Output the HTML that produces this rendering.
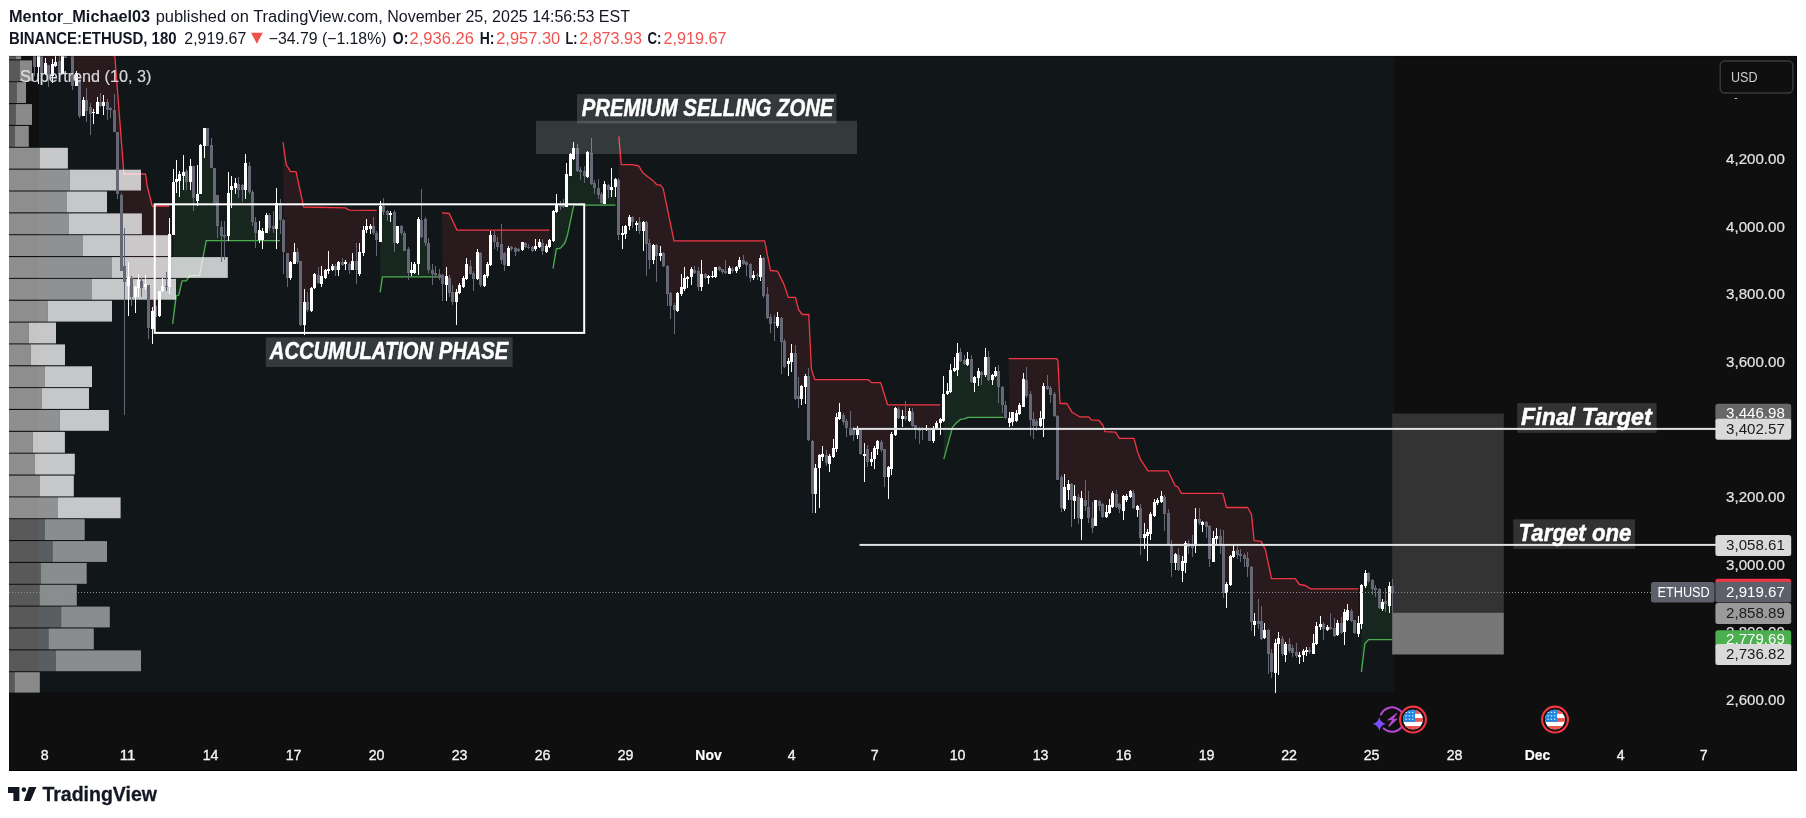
<!DOCTYPE html>
<html><head><meta charset="utf-8"><title>ETHUSD chart</title>
<style>
html,body{margin:0;padding:0;background:#ffffff;}
body{width:1806px;height:818px;position:relative;overflow:hidden;font-family:"Liberation Sans", sans-serif;}
</style></head><body>
<svg width="1806" height="818" viewBox="0 0 1806 818" style="position:absolute;left:0;top:0;will-change:transform;font-family:&quot;Liberation Sans&quot;,sans-serif">
<defs><clipPath id="cc"><rect x="9" y="56" width="1788" height="715"/></clipPath></defs>
<rect x="9" y="56" width="1788" height="715" fill="#0f0f0f"/>
<g clip-path="url(#cc)">
<rect x="38.5" y="56" width="1355.5" height="636.6" fill="#111719"/>
<polygon points="34.3,40.0 114.8,56.0 123.9,174.0 145.5,174.0 147.2,186.0 152.2,206.0 169.4,206.0 169.5,260.7 166.5,286.5 162.5,288.3 159.5,303.2 155.5,311.3 152.5,319.9 148.5,306.5 145.5,285.7 141.5,284.6 138.5,284.1 135.5,291.6 131.5,287.3 128.5,281.5 124.5,274.0 121.5,233.0 117.5,163.0 114.5,120.8 110.5,109.3 107.5,106.2 103.5,104.0 100.5,104.0 97.5,108.0 93.5,112.4 90.5,110.2 86.5,105.5 83.5,108.0 79.5,98.0 76.5,79.2 72.5,71.2 69.5,56.8 65.5,56.8 62.5,65.0 59.5,67.3 55.5,64.2 52.5,70.0 48.5,70.3 45.5,68.7 41.5,65.0 38.5,61.4 34.5,61.4" fill="rgba(242,54,69,0.10)"/>
<polygon points="172.6,323.8 176.3,295.8 178.8,295.0 182.1,280.8 186.3,280.8 189.6,275.8 199.6,275.3 206.2,240.7 280.0,240.7 280.5,211.5 276.5,216.0 273.5,227.6 269.5,221.2 266.5,223.7 262.5,235.9 259.5,235.3 255.5,227.6 252.5,207.0 249.5,178.8 245.5,176.9 242.5,187.8 238.5,187.0 235.5,185.5 231.5,188.0 228.5,214.3 224.5,235.8 221.5,231.3 217.5,210.5 214.5,185.3 211.5,156.4 207.5,136.8 204.5,137.2 200.5,169.2 197.5,197.2 193.5,182.2 190.5,174.3 186.5,176.4 183.5,173.9 179.5,177.7 176.5,180.5 173.5,208.5" fill="rgba(76,175,80,0.10)"/>
<polygon points="283.0,142.1 286.2,164.7 290.6,171.6 296.0,171.6 303.7,207.0 345.3,207.8 349.1,210.1 376.7,210.4 376.5,236.6 373.5,229.5 370.5,227.3 366.5,228.2 363.5,241.7 359.5,262.9 356.5,265.5 352.5,265.5 349.5,266.7 345.5,263.2 342.5,263.5 338.5,266.1 335.5,268.0 332.5,268.0 328.5,270.0 325.5,273.8 321.5,280.2 318.5,278.9 314.5,280.9 311.5,299.5 307.5,305.9 304.5,313.6 300.5,293.1 297.5,257.1 294.5,257.8 290.5,270.0 287.5,265.5 283.5,235.9" fill="rgba(242,54,69,0.10)"/>
<polygon points="380.1,292.3 382.5,276.9 439.0,276.9 439.5,275.7 435.5,273.8 432.5,271.9 428.5,256.5 425.5,230.8 421.5,228.2 418.5,241.1 414.5,268.0 411.5,271.6 408.5,261.0 404.5,241.7 401.5,229.5 397.5,234.6 394.5,227.6 390.5,213.7 387.5,212.8 383.5,209.0 380.5,224.0" fill="rgba(76,175,80,0.10)"/>
<polygon points="442.0,212.9 449.3,213.5 457.0,230.2 549.3,230.2 549.5,243.4 546.5,248.8 542.5,246.8 539.5,244.5 535.5,247.5 532.5,248.8 528.5,247.5 525.5,244.9 522.5,246.2 518.5,250.1 515.5,250.1 511.5,248.1 508.5,257.1 504.5,259.0 501.5,252.0 497.5,244.3 494.5,238.5 490.5,250.1 487.5,270.0 484.5,280.5 480.5,269.3 477.5,265.5 473.5,275.7 470.5,270.0 466.5,271.2 463.5,282.2 459.5,289.2 456.5,296.9 452.5,296.9 449.5,285.4 446.5,280.9 442.5,279.6" fill="rgba(242,54,69,0.10)"/>
<polygon points="553.0,268.7 556.4,248.9 560.5,248.1 564.9,243.0 567.4,235.3 573.8,205.2 615.5,205.2 615.5,183.2 611.5,188.3 608.5,187.8 604.5,194.2 601.5,198.7 598.5,191.6 594.5,185.2 591.5,168.5 587.5,164.3 584.5,173.7 580.5,171.1 577.5,159.5 573.5,153.4 570.5,165.3 566.5,190.3 563.5,205.8 560.5,205.8 556.5,208.3 553.5,225.9" fill="rgba(76,175,80,0.10)"/>
<polygon points="618.8,136.4 621.3,164.7 632.4,164.7 638.8,166.0 642.6,172.4 647.8,176.7 652.9,180.6 656.8,184.7 660.6,185.2 663.2,188.6 674.0,240.9 764.6,240.9 770.5,270.5 777.5,271.2 783.9,284.1 788.3,297.4 795.4,297.4 798.5,309.5 802.2,314.5 808.8,314.5 811.4,369.3 814.7,379.6 867.9,379.6 871.7,382.7 880.7,382.7 887.6,404.8 940.4,404.8 940.5,421.0 936.5,425.6 933.5,434.2 929.5,435.0 926.5,429.0 922.5,429.7 919.5,429.7 915.5,427.4 912.5,418.8 909.5,415.8 905.5,417.7 902.5,417.1 898.5,413.6 895.5,421.6 891.5,451.8 888.5,472.1 884.5,463.3 881.5,446.0 877.5,445.1 874.5,453.4 871.5,460.8 867.5,455.4 864.5,454.9 860.5,441.9 857.5,432.0 853.5,432.3 850.5,431.2 846.5,424.6 843.5,418.4 839.5,415.4 836.5,433.2 833.5,452.4 829.5,460.1 826.5,459.2 822.5,455.4 819.5,461.8 815.5,481.0 812.5,467.3 808.5,407.9 805.5,381.8 801.5,392.4 798.5,397.6 795.5,375.8 791.5,357.1 788.5,362.5 784.5,353.9 781.5,330.2 777.5,321.2 774.5,322.5 770.5,320.5 767.5,306.0 763.5,277.0 760.5,267.4 757.5,275.5 753.5,276.8 750.5,270.9 746.5,263.5 743.5,262.0 739.5,263.5 736.5,268.8 732.5,269.7 729.5,270.9 725.5,271.8 722.5,270.7 719.5,268.7 715.5,272.1 712.5,276.4 708.5,277.4 705.5,275.7 701.5,280.2 698.5,278.9 694.5,271.2 691.5,272.8 687.5,277.9 684.5,283.4 681.5,290.5 677.5,302.1 674.5,307.2 670.5,299.5 667.5,280.2 663.5,259.4 660.5,254.6 656.5,250.3 653.5,252.2 649.5,251.3 646.5,233.4 643.5,226.3 639.5,226.7 636.5,223.7 632.5,219.9 629.5,221.6 625.5,229.8 622.5,234.0 618.5,207.7" fill="rgba(242,54,69,0.10)"/>
<polygon points="943.8,459.2 952.6,427.1 956.5,422.8 960.3,419.4 964.2,418.9 968.0,417.4 1003.5,417.4 1002.5,396.0 998.5,379.0 995.5,373.4 992.5,377.3 988.5,368.3 985.5,366.3 981.5,373.6 978.5,374.5 974.5,379.7 971.5,370.4 967.5,361.9 964.5,362.3 960.5,356.5 957.5,361.2 954.5,369.3 950.5,381.2 947.5,392.7 943.5,407.5" fill="rgba(76,175,80,0.10)"/>
<polygon points="1008.6,358.6 1056.6,358.6 1057.9,360.3 1060.0,403.5 1066.9,403.5 1072.0,412.2 1079.7,416.8 1088.7,416.8 1091.3,419.9 1099.0,420.3 1103.0,425.5 1105.0,431.6 1115.5,432.2 1119.5,438.4 1134.0,438.4 1137.5,451.7 1140.9,460.2 1148.0,470.8 1168.0,470.8 1175.2,485.9 1177.7,486.7 1181.5,493.4 1222.9,493.4 1226.4,507.5 1247.7,507.5 1251.5,514.4 1254.1,540.6 1261.3,541.4 1265.6,550.3 1271.5,578.6 1295.2,578.6 1299.5,584.5 1305.4,585.5 1310.6,588.9 1358.5,588.9 1358.5,628.3 1354.5,626.5 1351.5,615.8 1347.5,614.8 1344.5,621.9 1341.5,628.2 1337.5,628.9 1334.5,632.3 1330.5,628.0 1327.5,628.7 1323.5,626.4 1320.5,625.7 1316.5,635.1 1313.5,648.4 1309.5,651.0 1306.5,650.8 1303.5,653.1 1299.5,656.0 1296.5,653.7 1292.5,650.5 1289.5,647.3 1285.5,649.2 1282.5,646.7 1278.5,641.3 1275.5,658.1 1271.5,662.7 1268.5,642.2 1264.5,634.2 1261.5,630.2 1258.5,622.3 1254.5,622.9 1251.5,594.4 1247.5,562.3 1244.5,556.8 1240.5,555.0 1237.5,552.9 1233.5,554.1 1230.5,570.4 1226.5,588.2 1223.5,568.6 1220.5,540.7 1216.5,537.5 1213.5,549.7 1209.5,542.9 1206.5,524.7 1202.5,523.1 1199.5,521.1 1195.5,532.6 1192.5,546.5 1188.5,545.2 1185.5,553.3 1182.5,565.8 1178.5,562.8 1175.5,558.7 1171.5,554.2 1168.5,529.2 1164.5,505.8 1161.5,498.6 1157.5,501.6 1154.5,508.6 1150.5,524.0 1147.5,534.0 1144.5,535.6 1140.5,522.7 1137.5,508.0 1133.5,500.3 1130.5,494.2 1126.5,498.0 1123.5,503.5 1119.5,506.7 1116.5,500.3 1112.5,499.6 1109.5,509.3 1106.5,514.4 1102.5,510.5 1099.5,503.4 1095.5,512.9 1092.5,523.1 1088.5,512.8 1085.5,503.0 1081.5,508.4 1078.5,507.7 1074.5,498.4 1071.5,492.3 1068.5,487.2 1064.5,497.8 1061.5,492.7 1057.5,447.7 1054.5,404.9 1050.5,391.4 1047.5,387.3 1043.5,402.3 1040.5,422.0 1036.5,423.3 1033.5,422.6 1030.5,406.8 1026.5,388.0 1023.5,392.7 1019.5,409.8 1016.5,417.2 1012.5,417.1 1009.5,420.4" fill="rgba(242,54,69,0.10)"/>
<polygon points="1361.4,672.2 1364.8,643.8 1368.5,639.6 1393.0,639.6 1392.5,589.5 1389.5,595.9 1385.5,602.6 1382.5,605.6 1379.5,598.8 1375.5,588.9 1372.5,584.6 1368.5,577.3 1365.5,579.5 1361.5,604.3" fill="rgba(76,175,80,0.10)"/>
<polyline points="34.3,40.0 114.8,56.0 123.9,174.0 145.5,174.0 147.2,186.0 152.2,206.0 169.4,206.0" fill="none" stroke="#f23645" stroke-width="1.3" stroke-linejoin="round"/>
<polyline points="172.6,323.8 176.3,295.8 178.8,295.0 182.1,280.8 186.3,280.8 189.6,275.8 199.6,275.3 206.2,240.7 280.0,240.7" fill="none" stroke="#4caf50" stroke-width="1.3" stroke-linejoin="round"/>
<polyline points="283.0,142.1 286.2,164.7 290.6,171.6 296.0,171.6 303.7,207.0 345.3,207.8 349.1,210.1 376.7,210.4" fill="none" stroke="#f23645" stroke-width="1.3" stroke-linejoin="round"/>
<polyline points="380.1,292.3 382.5,276.9 439.0,276.9" fill="none" stroke="#4caf50" stroke-width="1.3" stroke-linejoin="round"/>
<polyline points="442.0,212.9 449.3,213.5 457.0,230.2 549.3,230.2" fill="none" stroke="#f23645" stroke-width="1.3" stroke-linejoin="round"/>
<polyline points="553.0,268.7 556.4,248.9 560.5,248.1 564.9,243.0 567.4,235.3 573.8,205.2 615.5,205.2" fill="none" stroke="#4caf50" stroke-width="1.3" stroke-linejoin="round"/>
<polyline points="618.8,136.4 621.3,164.7 632.4,164.7 638.8,166.0 642.6,172.4 647.8,176.7 652.9,180.6 656.8,184.7 660.6,185.2 663.2,188.6 674.0,240.9 764.6,240.9 770.5,270.5 777.5,271.2 783.9,284.1 788.3,297.4 795.4,297.4 798.5,309.5 802.2,314.5 808.8,314.5 811.4,369.3 814.7,379.6 867.9,379.6 871.7,382.7 880.7,382.7 887.6,404.8 940.4,404.8" fill="none" stroke="#f23645" stroke-width="1.3" stroke-linejoin="round"/>
<polyline points="943.8,459.2 952.6,427.1 956.5,422.8 960.3,419.4 964.2,418.9 968.0,417.4 1003.5,417.4" fill="none" stroke="#4caf50" stroke-width="1.3" stroke-linejoin="round"/>
<polyline points="1008.6,358.6 1056.6,358.6 1057.9,360.3 1060.0,403.5 1066.9,403.5 1072.0,412.2 1079.7,416.8 1088.7,416.8 1091.3,419.9 1099.0,420.3 1103.0,425.5 1105.0,431.6 1115.5,432.2 1119.5,438.4 1134.0,438.4 1137.5,451.7 1140.9,460.2 1148.0,470.8 1168.0,470.8 1175.2,485.9 1177.7,486.7 1181.5,493.4 1222.9,493.4 1226.4,507.5 1247.7,507.5 1251.5,514.4 1254.1,540.6 1261.3,541.4 1265.6,550.3 1271.5,578.6 1295.2,578.6 1299.5,584.5 1305.4,585.5 1310.6,588.9 1358.5,588.9" fill="none" stroke="#f23645" stroke-width="1.3" stroke-linejoin="round"/>
<polyline points="1361.4,672.2 1364.8,643.8 1368.5,639.6 1393.0,639.6" fill="none" stroke="#4caf50" stroke-width="1.3" stroke-linejoin="round"/>
<g>
<rect x="9" y="56.0" width="6.9" height="3.3" fill="#ffffff" fill-opacity="0.31"/>
<rect x="15.9" y="56.0" width="5.2" height="3.3" fill="#ffffff" fill-opacity="0.51"/>
<rect x="9" y="60.4" width="10.8" height="20.8" fill="#ffffff" fill-opacity="0.31"/>
<rect x="19.8" y="60.4" width="12.2" height="20.8" fill="#ffffff" fill-opacity="0.51"/>
<rect x="9" y="82.2" width="7.8" height="20.8" fill="#ffffff" fill-opacity="0.31"/>
<rect x="16.8" y="82.2" width="9.2" height="20.8" fill="#ffffff" fill-opacity="0.51"/>
<rect x="9" y="104.1" width="6.8" height="20.8" fill="#ffffff" fill-opacity="0.31"/>
<rect x="15.8" y="104.1" width="16.2" height="20.8" fill="#ffffff" fill-opacity="0.51"/>
<rect x="9" y="126.0" width="6.0" height="20.8" fill="#ffffff" fill-opacity="0.31"/>
<rect x="15.0" y="126.0" width="13.8" height="20.8" fill="#ffffff" fill-opacity="0.51"/>
<rect x="9" y="147.8" width="31.0" height="20.8" fill="#ffffff" fill-opacity="0.53"/>
<rect x="40.0" y="147.8" width="27.9" height="20.8" fill="#ffffff" fill-opacity="0.76"/>
<rect x="9" y="169.7" width="60.8" height="20.8" fill="#ffffff" fill-opacity="0.53"/>
<rect x="69.8" y="169.7" width="71.2" height="20.8" fill="#ffffff" fill-opacity="0.76"/>
<rect x="9" y="191.5" width="58.0" height="20.8" fill="#ffffff" fill-opacity="0.53"/>
<rect x="67.0" y="191.5" width="40.0" height="20.8" fill="#ffffff" fill-opacity="0.76"/>
<rect x="9" y="213.4" width="59.7" height="20.8" fill="#ffffff" fill-opacity="0.53"/>
<rect x="68.7" y="213.4" width="73.2" height="20.8" fill="#ffffff" fill-opacity="0.76"/>
<rect x="9" y="235.2" width="73.7" height="20.8" fill="#ffffff" fill-opacity="0.53"/>
<rect x="82.7" y="235.2" width="88.6" height="20.8" fill="#ffffff" fill-opacity="0.76"/>
<rect x="9" y="257.1" width="103.0" height="20.8" fill="#ffffff" fill-opacity="0.53"/>
<rect x="112.0" y="257.1" width="115.8" height="20.8" fill="#ffffff" fill-opacity="0.76"/>
<rect x="9" y="278.9" width="82.6" height="20.8" fill="#ffffff" fill-opacity="0.53"/>
<rect x="91.6" y="278.9" width="84.4" height="20.8" fill="#ffffff" fill-opacity="0.76"/>
<rect x="9" y="300.8" width="38.9" height="20.8" fill="#ffffff" fill-opacity="0.53"/>
<rect x="47.9" y="300.8" width="64.1" height="20.8" fill="#ffffff" fill-opacity="0.76"/>
<rect x="9" y="322.6" width="19.8" height="20.8" fill="#ffffff" fill-opacity="0.53"/>
<rect x="28.8" y="322.6" width="27.2" height="20.8" fill="#ffffff" fill-opacity="0.76"/>
<rect x="9" y="344.4" width="21.8" height="20.8" fill="#ffffff" fill-opacity="0.53"/>
<rect x="30.8" y="344.4" width="34.2" height="20.8" fill="#ffffff" fill-opacity="0.76"/>
<rect x="9" y="366.3" width="35.6" height="20.8" fill="#ffffff" fill-opacity="0.53"/>
<rect x="44.6" y="366.3" width="47.4" height="20.8" fill="#ffffff" fill-opacity="0.76"/>
<rect x="9" y="388.1" width="32.9" height="20.8" fill="#ffffff" fill-opacity="0.53"/>
<rect x="41.9" y="388.1" width="47.1" height="20.8" fill="#ffffff" fill-opacity="0.76"/>
<rect x="9" y="410.0" width="50.9" height="20.8" fill="#ffffff" fill-opacity="0.53"/>
<rect x="59.9" y="410.0" width="49.0" height="20.8" fill="#ffffff" fill-opacity="0.76"/>
<rect x="9" y="431.9" width="23.7" height="20.8" fill="#ffffff" fill-opacity="0.53"/>
<rect x="32.7" y="431.9" width="32.2" height="20.8" fill="#ffffff" fill-opacity="0.76"/>
<rect x="9" y="453.7" width="25.9" height="20.8" fill="#ffffff" fill-opacity="0.53"/>
<rect x="34.9" y="453.7" width="39.9" height="20.8" fill="#ffffff" fill-opacity="0.76"/>
<rect x="9" y="475.6" width="30.9" height="20.8" fill="#ffffff" fill-opacity="0.53"/>
<rect x="39.9" y="475.6" width="33.9" height="20.8" fill="#ffffff" fill-opacity="0.76"/>
<rect x="9" y="497.4" width="48.5" height="20.8" fill="#ffffff" fill-opacity="0.53"/>
<rect x="57.5" y="497.4" width="63.1" height="20.8" fill="#ffffff" fill-opacity="0.76"/>
<rect x="9" y="519.2" width="35.9" height="20.8" fill="#ffffff" fill-opacity="0.31"/>
<rect x="44.9" y="519.2" width="39.8" height="20.8" fill="#ffffff" fill-opacity="0.51"/>
<rect x="9" y="541.1" width="43.7" height="20.8" fill="#ffffff" fill-opacity="0.31"/>
<rect x="52.7" y="541.1" width="54.3" height="20.8" fill="#ffffff" fill-opacity="0.51"/>
<rect x="9" y="563.0" width="31.8" height="20.8" fill="#ffffff" fill-opacity="0.31"/>
<rect x="40.8" y="563.0" width="45.9" height="20.8" fill="#ffffff" fill-opacity="0.51"/>
<rect x="9" y="584.8" width="30.8" height="20.8" fill="#ffffff" fill-opacity="0.31"/>
<rect x="39.8" y="584.8" width="37.0" height="20.8" fill="#ffffff" fill-opacity="0.51"/>
<rect x="9" y="606.6" width="52.2" height="20.8" fill="#ffffff" fill-opacity="0.31"/>
<rect x="61.2" y="606.6" width="48.6" height="20.8" fill="#ffffff" fill-opacity="0.51"/>
<rect x="9" y="628.5" width="39.6" height="20.8" fill="#ffffff" fill-opacity="0.31"/>
<rect x="48.6" y="628.5" width="45.2" height="20.8" fill="#ffffff" fill-opacity="0.51"/>
<rect x="9" y="650.4" width="47.0" height="20.8" fill="#ffffff" fill-opacity="0.31"/>
<rect x="56.0" y="650.4" width="85.0" height="20.8" fill="#ffffff" fill-opacity="0.51"/>
<rect x="9" y="672.2" width="5.6" height="20.4" fill="#ffffff" fill-opacity="0.31"/>
<rect x="14.6" y="672.2" width="25.2" height="20.4" fill="#ffffff" fill-opacity="0.51"/>
</g>
<rect x="1392.2" y="413.6" width="111.6" height="199.1" fill="#333333"/>
<rect x="1392.2" y="612.7" width="111.6" height="41.8" fill="#777777"/>
<rect x="34" y="56" width="1" height="20" fill="#666975"/>
<rect x="33" y="56" width="3" height="11" fill="#666975"/>
<rect x="38" y="56" width="1" height="28" fill="#ffffff"/>
<rect x="37" y="56" width="3" height="11" fill="#ffffff"/>
<rect x="41" y="56" width="1" height="18" fill="#666975"/>
<rect x="40" y="56" width="3" height="18" fill="#666975"/>
<rect x="45" y="58" width="1" height="17" fill="#ffffff"/>
<rect x="44" y="63" width="3" height="11" fill="#ffffff"/>
<rect x="48" y="65" width="1" height="22" fill="#666975"/>
<rect x="47" y="65" width="3" height="11" fill="#666975"/>
<rect x="52" y="59" width="1" height="24" fill="#ffffff"/>
<rect x="51" y="64" width="3" height="12" fill="#ffffff"/>
<rect x="55" y="56" width="1" height="11" fill="#ffffff"/>
<rect x="54" y="62" width="3" height="4" fill="#ffffff"/>
<rect x="59" y="56" width="1" height="19" fill="#666975"/>
<rect x="58" y="61" width="3" height="13" fill="#666975"/>
<rect x="62" y="56" width="1" height="18" fill="#ffffff"/>
<rect x="61" y="56" width="3" height="18" fill="#ffffff"/>
<rect x="65" y="56" width="1" height="2" fill="#666975"/>
<rect x="64" y="56" width="3" height="2" fill="#666975"/>
<rect x="72" y="56" width="1" height="34" fill="#666975"/>
<rect x="71" y="56" width="3" height="30" fill="#666975"/>
<rect x="76" y="71" width="1" height="15" fill="#ffffff"/>
<rect x="75" y="73" width="3" height="13" fill="#ffffff"/>
<rect x="79" y="80" width="1" height="38" fill="#666975"/>
<rect x="78" y="80" width="3" height="36" fill="#666975"/>
<rect x="83" y="97" width="1" height="19" fill="#ffffff"/>
<rect x="82" y="100" width="3" height="16" fill="#ffffff"/>
<rect x="86" y="88" width="1" height="34" fill="#666975"/>
<rect x="85" y="100" width="3" height="11" fill="#666975"/>
<rect x="90" y="103" width="1" height="32" fill="#666975"/>
<rect x="89" y="107" width="3" height="7" fill="#666975"/>
<rect x="93" y="109" width="1" height="15" fill="#ffffff"/>
<rect x="92" y="112" width="3" height="1" fill="#ffffff"/>
<rect x="97" y="97" width="1" height="17" fill="#ffffff"/>
<rect x="96" y="102" width="3" height="12" fill="#ffffff"/>
<rect x="100" y="93" width="1" height="14" fill="#666975"/>
<rect x="99" y="102" width="3" height="4" fill="#666975"/>
<rect x="103" y="95" width="1" height="20" fill="#ffffff"/>
<rect x="102" y="102" width="3" height="4" fill="#ffffff"/>
<rect x="107" y="99" width="1" height="21" fill="#666975"/>
<rect x="106" y="102" width="3" height="8" fill="#666975"/>
<rect x="110" y="107" width="1" height="11" fill="#666975"/>
<rect x="109" y="108" width="3" height="2" fill="#666975"/>
<rect x="114" y="94" width="1" height="38" fill="#666975"/>
<rect x="113" y="110" width="3" height="22" fill="#666975"/>
<rect x="117" y="132" width="1" height="67" fill="#666975"/>
<rect x="116" y="132" width="3" height="62" fill="#666975"/>
<rect x="121" y="193" width="1" height="78" fill="#666975"/>
<rect x="120" y="195" width="3" height="76" fill="#666975"/>
<rect x="124" y="228" width="1" height="187" fill="#666975"/>
<rect x="123" y="266" width="3" height="16" fill="#666975"/>
<rect x="128" y="262" width="1" height="54" fill="#ffffff"/>
<rect x="127" y="277" width="3" height="9" fill="#ffffff"/>
<rect x="131" y="276" width="1" height="30" fill="#666975"/>
<rect x="130" y="278" width="3" height="19" fill="#666975"/>
<rect x="135" y="286" width="1" height="27" fill="#ffffff"/>
<rect x="134" y="287" width="3" height="10" fill="#ffffff"/>
<rect x="138" y="274" width="1" height="23" fill="#ffffff"/>
<rect x="137" y="280" width="3" height="8" fill="#ffffff"/>
<rect x="141" y="278" width="1" height="19" fill="#666975"/>
<rect x="140" y="281" width="3" height="7" fill="#666975"/>
<rect x="145" y="275" width="1" height="15" fill="#ffffff"/>
<rect x="144" y="284" width="3" height="3" fill="#ffffff"/>
<rect x="148" y="285" width="1" height="54" fill="#666975"/>
<rect x="147" y="285" width="3" height="43" fill="#666975"/>
<rect x="152" y="307" width="1" height="37" fill="#ffffff"/>
<rect x="151" y="311" width="3" height="18" fill="#ffffff"/>
<rect x="155" y="306" width="1" height="11" fill="#666975"/>
<rect x="154" y="306" width="3" height="11" fill="#666975"/>
<rect x="159" y="291" width="1" height="26" fill="#ffffff"/>
<rect x="158" y="291" width="3" height="25" fill="#ffffff"/>
<rect x="162" y="278" width="1" height="14" fill="#ffffff"/>
<rect x="161" y="286" width="3" height="5" fill="#ffffff"/>
<rect x="166" y="272" width="1" height="19" fill="#666975"/>
<rect x="165" y="286" width="3" height="1" fill="#666975"/>
<rect x="169" y="218" width="1" height="76" fill="#ffffff"/>
<rect x="168" y="234" width="3" height="53" fill="#ffffff"/>
<rect x="173" y="169" width="1" height="66" fill="#ffffff"/>
<rect x="172" y="182" width="3" height="53" fill="#ffffff"/>
<rect x="176" y="160" width="1" height="33" fill="#ffffff"/>
<rect x="175" y="179" width="3" height="3" fill="#ffffff"/>
<rect x="179" y="171" width="1" height="26" fill="#ffffff"/>
<rect x="178" y="174" width="3" height="7" fill="#ffffff"/>
<rect x="183" y="155" width="1" height="35" fill="#ffffff"/>
<rect x="182" y="172" width="3" height="4" fill="#ffffff"/>
<rect x="186" y="169" width="1" height="21" fill="#666975"/>
<rect x="185" y="171" width="3" height="11" fill="#666975"/>
<rect x="190" y="159" width="1" height="31" fill="#ffffff"/>
<rect x="189" y="166" width="3" height="16" fill="#ffffff"/>
<rect x="193" y="166" width="1" height="45" fill="#666975"/>
<rect x="192" y="166" width="3" height="32" fill="#666975"/>
<rect x="197" y="165" width="1" height="41" fill="#ffffff"/>
<rect x="196" y="194" width="3" height="7" fill="#ffffff"/>
<rect x="200" y="144" width="1" height="50" fill="#ffffff"/>
<rect x="199" y="145" width="3" height="49" fill="#ffffff"/>
<rect x="204" y="128" width="1" height="30" fill="#ffffff"/>
<rect x="203" y="128" width="3" height="18" fill="#ffffff"/>
<rect x="207" y="128" width="1" height="18" fill="#666975"/>
<rect x="206" y="128" width="3" height="18" fill="#666975"/>
<rect x="211" y="138" width="1" height="30" fill="#666975"/>
<rect x="210" y="145" width="3" height="23" fill="#666975"/>
<rect x="214" y="168" width="1" height="35" fill="#666975"/>
<rect x="213" y="168" width="3" height="35" fill="#666975"/>
<rect x="217" y="195" width="1" height="43" fill="#666975"/>
<rect x="216" y="195" width="3" height="31" fill="#666975"/>
<rect x="221" y="221" width="1" height="41" fill="#666975"/>
<rect x="220" y="227" width="3" height="9" fill="#666975"/>
<rect x="224" y="221" width="1" height="39" fill="#666975"/>
<rect x="223" y="235" width="3" height="2" fill="#666975"/>
<rect x="228" y="172" width="1" height="69" fill="#ffffff"/>
<rect x="227" y="193" width="3" height="43" fill="#ffffff"/>
<rect x="231" y="176" width="1" height="32" fill="#ffffff"/>
<rect x="230" y="186" width="3" height="4" fill="#ffffff"/>
<rect x="235" y="178" width="1" height="16" fill="#ffffff"/>
<rect x="234" y="183" width="3" height="5" fill="#ffffff"/>
<rect x="238" y="177" width="1" height="21" fill="#666975"/>
<rect x="237" y="184" width="3" height="6" fill="#666975"/>
<rect x="242" y="184" width="1" height="18" fill="#666975"/>
<rect x="241" y="185" width="3" height="5" fill="#666975"/>
<rect x="245" y="154" width="1" height="45" fill="#ffffff"/>
<rect x="244" y="163" width="3" height="27" fill="#ffffff"/>
<rect x="249" y="162" width="1" height="32" fill="#666975"/>
<rect x="248" y="166" width="3" height="26" fill="#666975"/>
<rect x="252" y="190" width="1" height="36" fill="#666975"/>
<rect x="251" y="192" width="3" height="30" fill="#666975"/>
<rect x="255" y="217" width="1" height="31" fill="#666975"/>
<rect x="254" y="222" width="3" height="11" fill="#666975"/>
<rect x="259" y="221" width="1" height="22" fill="#ffffff"/>
<rect x="258" y="230" width="3" height="10" fill="#ffffff"/>
<rect x="262" y="228" width="1" height="21" fill="#ffffff"/>
<rect x="261" y="231" width="3" height="9" fill="#ffffff"/>
<rect x="266" y="213" width="1" height="20" fill="#ffffff"/>
<rect x="265" y="215" width="3" height="18" fill="#ffffff"/>
<rect x="269" y="213" width="1" height="18" fill="#666975"/>
<rect x="268" y="215" width="3" height="13" fill="#666975"/>
<rect x="273" y="211" width="1" height="22" fill="#666975"/>
<rect x="272" y="226" width="3" height="3" fill="#666975"/>
<rect x="276" y="188" width="1" height="61" fill="#ffffff"/>
<rect x="275" y="203" width="3" height="26" fill="#ffffff"/>
<rect x="280" y="199" width="1" height="35" fill="#666975"/>
<rect x="279" y="203" width="3" height="17" fill="#666975"/>
<rect x="283" y="219" width="1" height="55" fill="#666975"/>
<rect x="282" y="220" width="3" height="32" fill="#666975"/>
<rect x="287" y="253" width="1" height="34" fill="#666975"/>
<rect x="286" y="253" width="3" height="25" fill="#666975"/>
<rect x="290" y="261" width="1" height="19" fill="#ffffff"/>
<rect x="289" y="262" width="3" height="16" fill="#ffffff"/>
<rect x="294" y="243" width="1" height="21" fill="#ffffff"/>
<rect x="293" y="252" width="3" height="12" fill="#ffffff"/>
<rect x="297" y="248" width="1" height="16" fill="#666975"/>
<rect x="296" y="252" width="3" height="10" fill="#666975"/>
<rect x="300" y="261" width="1" height="65" fill="#666975"/>
<rect x="299" y="261" width="3" height="64" fill="#666975"/>
<rect x="304" y="289" width="1" height="46" fill="#ffffff"/>
<rect x="303" y="302" width="3" height="23" fill="#ffffff"/>
<rect x="307" y="292" width="1" height="20" fill="#666975"/>
<rect x="306" y="302" width="3" height="8" fill="#666975"/>
<rect x="311" y="287" width="1" height="25" fill="#ffffff"/>
<rect x="310" y="288" width="3" height="23" fill="#ffffff"/>
<rect x="314" y="273" width="1" height="16" fill="#ffffff"/>
<rect x="313" y="274" width="3" height="14" fill="#ffffff"/>
<rect x="318" y="267" width="1" height="17" fill="#666975"/>
<rect x="317" y="275" width="3" height="8" fill="#666975"/>
<rect x="321" y="266" width="1" height="21" fill="#ffffff"/>
<rect x="320" y="276" width="3" height="8" fill="#ffffff"/>
<rect x="325" y="269" width="1" height="10" fill="#ffffff"/>
<rect x="324" y="270" width="3" height="8" fill="#ffffff"/>
<rect x="328" y="251" width="1" height="23" fill="#ffffff"/>
<rect x="327" y="269" width="3" height="2" fill="#ffffff"/>
<rect x="332" y="264" width="1" height="7" fill="#ffffff"/>
<rect x="331" y="266" width="3" height="4" fill="#ffffff"/>
<rect x="335" y="264" width="1" height="12" fill="#666975"/>
<rect x="334" y="266" width="3" height="4" fill="#666975"/>
<rect x="338" y="261" width="1" height="15" fill="#ffffff"/>
<rect x="337" y="262" width="3" height="8" fill="#ffffff"/>
<rect x="342" y="258" width="1" height="8" fill="#666975"/>
<rect x="341" y="262" width="3" height="3" fill="#666975"/>
<rect x="345" y="260" width="1" height="10" fill="#ffffff"/>
<rect x="344" y="262" width="3" height="2" fill="#ffffff"/>
<rect x="349" y="262" width="1" height="12" fill="#666975"/>
<rect x="348" y="264" width="3" height="6" fill="#666975"/>
<rect x="352" y="253" width="1" height="17" fill="#ffffff"/>
<rect x="351" y="261" width="3" height="9" fill="#ffffff"/>
<rect x="356" y="243" width="1" height="41" fill="#666975"/>
<rect x="355" y="261" width="3" height="9" fill="#666975"/>
<rect x="359" y="243" width="1" height="33" fill="#ffffff"/>
<rect x="358" y="252" width="3" height="22" fill="#ffffff"/>
<rect x="363" y="226" width="1" height="30" fill="#ffffff"/>
<rect x="362" y="230" width="3" height="23" fill="#ffffff"/>
<rect x="366" y="219" width="1" height="14" fill="#ffffff"/>
<rect x="365" y="226" width="3" height="4" fill="#ffffff"/>
<rect x="370" y="224" width="1" height="10" fill="#ffffff"/>
<rect x="369" y="226" width="3" height="3" fill="#ffffff"/>
<rect x="373" y="217" width="1" height="18" fill="#666975"/>
<rect x="372" y="226" width="3" height="7" fill="#666975"/>
<rect x="376" y="231" width="1" height="25" fill="#666975"/>
<rect x="375" y="233" width="3" height="7" fill="#666975"/>
<rect x="380" y="201" width="1" height="41" fill="#ffffff"/>
<rect x="379" y="206" width="3" height="36" fill="#ffffff"/>
<rect x="383" y="198" width="1" height="17" fill="#666975"/>
<rect x="382" y="206" width="3" height="6" fill="#666975"/>
<rect x="387" y="210" width="1" height="11" fill="#666975"/>
<rect x="386" y="211" width="3" height="4" fill="#666975"/>
<rect x="390" y="211" width="1" height="11" fill="#ffffff"/>
<rect x="389" y="213" width="3" height="2" fill="#ffffff"/>
<rect x="394" y="210" width="1" height="42" fill="#666975"/>
<rect x="393" y="212" width="3" height="31" fill="#666975"/>
<rect x="397" y="226" width="1" height="18" fill="#ffffff"/>
<rect x="396" y="226" width="3" height="17" fill="#ffffff"/>
<rect x="401" y="225" width="1" height="10" fill="#666975"/>
<rect x="400" y="226" width="3" height="7" fill="#666975"/>
<rect x="404" y="231" width="1" height="20" fill="#666975"/>
<rect x="403" y="233" width="3" height="18" fill="#666975"/>
<rect x="408" y="247" width="1" height="33" fill="#666975"/>
<rect x="407" y="249" width="3" height="24" fill="#666975"/>
<rect x="411" y="262" width="1" height="14" fill="#ffffff"/>
<rect x="410" y="270" width="3" height="3" fill="#ffffff"/>
<rect x="414" y="262" width="1" height="12" fill="#ffffff"/>
<rect x="413" y="264" width="3" height="9" fill="#ffffff"/>
<rect x="418" y="217" width="1" height="58" fill="#ffffff"/>
<rect x="417" y="219" width="3" height="45" fill="#ffffff"/>
<rect x="421" y="189" width="1" height="49" fill="#666975"/>
<rect x="420" y="220" width="3" height="17" fill="#666975"/>
<rect x="425" y="217" width="1" height="29" fill="#666975"/>
<rect x="424" y="219" width="3" height="24" fill="#666975"/>
<rect x="428" y="238" width="1" height="35" fill="#666975"/>
<rect x="427" y="243" width="3" height="27" fill="#666975"/>
<rect x="432" y="264" width="1" height="21" fill="#666975"/>
<rect x="431" y="270" width="3" height="4" fill="#666975"/>
<rect x="435" y="266" width="1" height="12" fill="#666975"/>
<rect x="434" y="273" width="3" height="2" fill="#666975"/>
<rect x="439" y="269" width="1" height="11" fill="#666975"/>
<rect x="438" y="274" width="3" height="4" fill="#666975"/>
<rect x="442" y="274" width="1" height="27" fill="#666975"/>
<rect x="441" y="275" width="3" height="9" fill="#666975"/>
<rect x="446" y="267" width="1" height="34" fill="#ffffff"/>
<rect x="445" y="276" width="3" height="9" fill="#ffffff"/>
<rect x="449" y="275" width="1" height="22" fill="#666975"/>
<rect x="448" y="278" width="3" height="15" fill="#666975"/>
<rect x="452" y="285" width="1" height="20" fill="#666975"/>
<rect x="451" y="292" width="3" height="10" fill="#666975"/>
<rect x="456" y="289" width="1" height="36" fill="#ffffff"/>
<rect x="455" y="292" width="3" height="10" fill="#ffffff"/>
<rect x="459" y="283" width="1" height="11" fill="#ffffff"/>
<rect x="458" y="285" width="3" height="8" fill="#ffffff"/>
<rect x="463" y="276" width="1" height="12" fill="#ffffff"/>
<rect x="462" y="278" width="3" height="9" fill="#ffffff"/>
<rect x="466" y="258" width="1" height="22" fill="#ffffff"/>
<rect x="465" y="264" width="3" height="15" fill="#ffffff"/>
<rect x="470" y="260" width="1" height="15" fill="#666975"/>
<rect x="469" y="266" width="3" height="8" fill="#666975"/>
<rect x="473" y="271" width="1" height="20" fill="#666975"/>
<rect x="472" y="273" width="3" height="6" fill="#666975"/>
<rect x="477" y="249" width="1" height="31" fill="#ffffff"/>
<rect x="476" y="252" width="3" height="27" fill="#ffffff"/>
<rect x="480" y="252" width="1" height="35" fill="#666975"/>
<rect x="479" y="253" width="3" height="32" fill="#666975"/>
<rect x="484" y="274" width="1" height="13" fill="#ffffff"/>
<rect x="483" y="275" width="3" height="11" fill="#ffffff"/>
<rect x="487" y="262" width="1" height="16" fill="#ffffff"/>
<rect x="486" y="264" width="3" height="12" fill="#ffffff"/>
<rect x="490" y="231" width="1" height="35" fill="#ffffff"/>
<rect x="489" y="235" width="3" height="30" fill="#ffffff"/>
<rect x="494" y="231" width="1" height="18" fill="#666975"/>
<rect x="493" y="235" width="3" height="7" fill="#666975"/>
<rect x="497" y="237" width="1" height="14" fill="#666975"/>
<rect x="496" y="242" width="3" height="5" fill="#666975"/>
<rect x="501" y="224" width="1" height="40" fill="#666975"/>
<rect x="500" y="244" width="3" height="16" fill="#666975"/>
<rect x="504" y="252" width="1" height="19" fill="#666975"/>
<rect x="503" y="253" width="3" height="12" fill="#666975"/>
<rect x="508" y="246" width="1" height="20" fill="#ffffff"/>
<rect x="507" y="248" width="3" height="18" fill="#ffffff"/>
<rect x="511" y="246" width="1" height="5" fill="#666975"/>
<rect x="510" y="247" width="3" height="2" fill="#666975"/>
<rect x="515" y="247" width="1" height="9" fill="#666975"/>
<rect x="514" y="248" width="3" height="4" fill="#666975"/>
<rect x="518" y="248" width="1" height="4" fill="#666975"/>
<rect x="517" y="249" width="3" height="2" fill="#666975"/>
<rect x="522" y="242" width="1" height="9" fill="#ffffff"/>
<rect x="521" y="242" width="3" height="8" fill="#ffffff"/>
<rect x="525" y="242" width="1" height="6" fill="#666975"/>
<rect x="524" y="243" width="3" height="4" fill="#666975"/>
<rect x="528" y="244" width="1" height="5" fill="#666975"/>
<rect x="527" y="247" width="3" height="1" fill="#666975"/>
<rect x="532" y="246" width="1" height="6" fill="#666975"/>
<rect x="531" y="247" width="3" height="4" fill="#666975"/>
<rect x="535" y="239" width="1" height="12" fill="#ffffff"/>
<rect x="534" y="246" width="3" height="3" fill="#ffffff"/>
<rect x="539" y="239" width="1" height="9" fill="#ffffff"/>
<rect x="538" y="242" width="3" height="5" fill="#ffffff"/>
<rect x="542" y="239" width="1" height="16" fill="#666975"/>
<rect x="541" y="243" width="3" height="8" fill="#666975"/>
<rect x="546" y="244" width="1" height="9" fill="#ffffff"/>
<rect x="545" y="246" width="3" height="6" fill="#ffffff"/>
<rect x="549" y="239" width="1" height="9" fill="#ffffff"/>
<rect x="548" y="240" width="3" height="7" fill="#ffffff"/>
<rect x="553" y="210" width="1" height="32" fill="#ffffff"/>
<rect x="552" y="211" width="3" height="30" fill="#ffffff"/>
<rect x="556" y="194" width="1" height="19" fill="#ffffff"/>
<rect x="555" y="204" width="3" height="8" fill="#ffffff"/>
<rect x="560" y="201" width="1" height="9" fill="#666975"/>
<rect x="559" y="204" width="3" height="3" fill="#666975"/>
<rect x="563" y="199" width="1" height="9" fill="#666975"/>
<rect x="562" y="204" width="3" height="3" fill="#666975"/>
<rect x="566" y="163" width="1" height="44" fill="#ffffff"/>
<rect x="565" y="174" width="3" height="33" fill="#ffffff"/>
<rect x="570" y="153" width="1" height="23" fill="#ffffff"/>
<rect x="569" y="154" width="3" height="22" fill="#ffffff"/>
<rect x="573" y="142" width="1" height="18" fill="#ffffff"/>
<rect x="572" y="148" width="3" height="11" fill="#ffffff"/>
<rect x="577" y="144" width="1" height="28" fill="#666975"/>
<rect x="576" y="148" width="3" height="23" fill="#666975"/>
<rect x="580" y="167" width="1" height="13" fill="#666975"/>
<rect x="579" y="170" width="3" height="2" fill="#666975"/>
<rect x="584" y="166" width="1" height="17" fill="#666975"/>
<rect x="583" y="171" width="3" height="5" fill="#666975"/>
<rect x="587" y="151" width="1" height="27" fill="#ffffff"/>
<rect x="586" y="152" width="3" height="25" fill="#ffffff"/>
<rect x="591" y="138" width="1" height="47" fill="#666975"/>
<rect x="590" y="153" width="3" height="31" fill="#666975"/>
<rect x="594" y="180" width="1" height="14" fill="#666975"/>
<rect x="593" y="183" width="3" height="5" fill="#666975"/>
<rect x="598" y="179" width="1" height="20" fill="#666975"/>
<rect x="597" y="188" width="3" height="7" fill="#666975"/>
<rect x="601" y="192" width="1" height="12" fill="#666975"/>
<rect x="600" y="194" width="3" height="9" fill="#666975"/>
<rect x="604" y="181" width="1" height="23" fill="#ffffff"/>
<rect x="603" y="184" width="3" height="20" fill="#ffffff"/>
<rect x="608" y="184" width="1" height="14" fill="#666975"/>
<rect x="607" y="185" width="3" height="5" fill="#666975"/>
<rect x="611" y="168" width="1" height="29" fill="#ffffff"/>
<rect x="610" y="187" width="3" height="3" fill="#ffffff"/>
<rect x="615" y="178" width="1" height="19" fill="#ffffff"/>
<rect x="614" y="179" width="3" height="8" fill="#ffffff"/>
<rect x="618" y="178" width="1" height="62" fill="#666975"/>
<rect x="617" y="180" width="3" height="55" fill="#666975"/>
<rect x="622" y="226" width="1" height="23" fill="#ffffff"/>
<rect x="621" y="233" width="3" height="2" fill="#ffffff"/>
<rect x="625" y="225" width="1" height="14" fill="#ffffff"/>
<rect x="624" y="226" width="3" height="8" fill="#ffffff"/>
<rect x="629" y="215" width="1" height="15" fill="#ffffff"/>
<rect x="628" y="217" width="3" height="9" fill="#ffffff"/>
<rect x="632" y="216" width="1" height="12" fill="#666975"/>
<rect x="631" y="217" width="3" height="5" fill="#666975"/>
<rect x="636" y="221" width="1" height="10" fill="#ffffff"/>
<rect x="635" y="223" width="3" height="2" fill="#ffffff"/>
<rect x="639" y="217" width="1" height="17" fill="#666975"/>
<rect x="638" y="222" width="3" height="9" fill="#666975"/>
<rect x="643" y="221" width="1" height="30" fill="#ffffff"/>
<rect x="642" y="222" width="3" height="9" fill="#ffffff"/>
<rect x="646" y="221" width="1" height="55" fill="#666975"/>
<rect x="645" y="222" width="3" height="22" fill="#666975"/>
<rect x="649" y="239" width="1" height="30" fill="#666975"/>
<rect x="648" y="243" width="3" height="17" fill="#666975"/>
<rect x="653" y="244" width="1" height="20" fill="#ffffff"/>
<rect x="652" y="245" width="3" height="15" fill="#ffffff"/>
<rect x="656" y="244" width="1" height="38" fill="#666975"/>
<rect x="655" y="245" width="3" height="11" fill="#666975"/>
<rect x="660" y="246" width="1" height="15" fill="#ffffff"/>
<rect x="659" y="253" width="3" height="3" fill="#ffffff"/>
<rect x="663" y="252" width="1" height="15" fill="#666975"/>
<rect x="662" y="253" width="3" height="13" fill="#666975"/>
<rect x="667" y="265" width="1" height="41" fill="#666975"/>
<rect x="666" y="266" width="3" height="28" fill="#666975"/>
<rect x="670" y="292" width="1" height="27" fill="#666975"/>
<rect x="669" y="293" width="3" height="13" fill="#666975"/>
<rect x="674" y="303" width="1" height="31" fill="#666975"/>
<rect x="673" y="305" width="3" height="5" fill="#666975"/>
<rect x="677" y="292" width="1" height="20" fill="#ffffff"/>
<rect x="676" y="293" width="3" height="18" fill="#ffffff"/>
<rect x="681" y="274" width="1" height="22" fill="#ffffff"/>
<rect x="680" y="287" width="3" height="7" fill="#ffffff"/>
<rect x="684" y="267" width="1" height="24" fill="#ffffff"/>
<rect x="683" y="278" width="3" height="11" fill="#ffffff"/>
<rect x="687" y="276" width="1" height="12" fill="#ffffff"/>
<rect x="686" y="277" width="3" height="2" fill="#ffffff"/>
<rect x="691" y="267" width="1" height="18" fill="#ffffff"/>
<rect x="690" y="269" width="3" height="8" fill="#ffffff"/>
<rect x="694" y="266" width="1" height="8" fill="#666975"/>
<rect x="693" y="270" width="3" height="3" fill="#666975"/>
<rect x="698" y="267" width="1" height="24" fill="#666975"/>
<rect x="697" y="271" width="3" height="16" fill="#666975"/>
<rect x="701" y="260" width="1" height="31" fill="#ffffff"/>
<rect x="700" y="274" width="3" height="13" fill="#ffffff"/>
<rect x="705" y="273" width="1" height="6" fill="#666975"/>
<rect x="704" y="274" width="3" height="4" fill="#666975"/>
<rect x="708" y="275" width="1" height="9" fill="#ffffff"/>
<rect x="707" y="276" width="3" height="2" fill="#ffffff"/>
<rect x="712" y="271" width="1" height="7" fill="#ffffff"/>
<rect x="711" y="276" width="3" height="1" fill="#ffffff"/>
<rect x="715" y="267" width="1" height="11" fill="#ffffff"/>
<rect x="714" y="267" width="3" height="10" fill="#ffffff"/>
<rect x="719" y="266" width="1" height="5" fill="#666975"/>
<rect x="718" y="267" width="3" height="3" fill="#666975"/>
<rect x="722" y="269" width="1" height="5" fill="#666975"/>
<rect x="721" y="269" width="3" height="3" fill="#666975"/>
<rect x="725" y="260" width="1" height="14" fill="#666975"/>
<rect x="724" y="271" width="3" height="2" fill="#666975"/>
<rect x="729" y="266" width="1" height="8" fill="#ffffff"/>
<rect x="728" y="268" width="3" height="6" fill="#ffffff"/>
<rect x="732" y="267" width="1" height="6" fill="#666975"/>
<rect x="731" y="269" width="3" height="2" fill="#666975"/>
<rect x="736" y="266" width="1" height="7" fill="#ffffff"/>
<rect x="735" y="267" width="3" height="4" fill="#ffffff"/>
<rect x="739" y="257" width="1" height="12" fill="#ffffff"/>
<rect x="738" y="260" width="3" height="7" fill="#ffffff"/>
<rect x="743" y="255" width="1" height="10" fill="#666975"/>
<rect x="742" y="260" width="3" height="4" fill="#666975"/>
<rect x="746" y="261" width="1" height="15" fill="#666975"/>
<rect x="745" y="262" width="3" height="3" fill="#666975"/>
<rect x="750" y="263" width="1" height="19" fill="#666975"/>
<rect x="749" y="264" width="3" height="14" fill="#666975"/>
<rect x="753" y="271" width="1" height="9" fill="#ffffff"/>
<rect x="752" y="275" width="3" height="3" fill="#ffffff"/>
<rect x="757" y="273" width="1" height="7" fill="#666975"/>
<rect x="756" y="275" width="3" height="1" fill="#666975"/>
<rect x="760" y="255" width="1" height="26" fill="#ffffff"/>
<rect x="759" y="258" width="3" height="19" fill="#ffffff"/>
<rect x="763" y="257" width="1" height="41" fill="#666975"/>
<rect x="762" y="258" width="3" height="38" fill="#666975"/>
<rect x="767" y="287" width="1" height="32" fill="#666975"/>
<rect x="766" y="294" width="3" height="24" fill="#666975"/>
<rect x="770" y="314" width="1" height="19" fill="#666975"/>
<rect x="769" y="317" width="3" height="7" fill="#666975"/>
<rect x="774" y="315" width="1" height="26" fill="#666975"/>
<rect x="773" y="322" width="3" height="1" fill="#666975"/>
<rect x="777" y="312" width="1" height="16" fill="#ffffff"/>
<rect x="776" y="317" width="3" height="9" fill="#ffffff"/>
<rect x="781" y="317" width="1" height="57" fill="#666975"/>
<rect x="780" y="318" width="3" height="24" fill="#666975"/>
<rect x="784" y="339" width="1" height="29" fill="#666975"/>
<rect x="783" y="341" width="3" height="26" fill="#666975"/>
<rect x="788" y="358" width="1" height="18" fill="#ffffff"/>
<rect x="787" y="361" width="3" height="3" fill="#ffffff"/>
<rect x="791" y="344" width="1" height="28" fill="#ffffff"/>
<rect x="790" y="353" width="3" height="9" fill="#ffffff"/>
<rect x="795" y="345" width="1" height="55" fill="#666975"/>
<rect x="794" y="353" width="3" height="46" fill="#666975"/>
<rect x="798" y="377" width="1" height="31" fill="#666975"/>
<rect x="797" y="396" width="3" height="3" fill="#666975"/>
<rect x="801" y="385" width="1" height="20" fill="#ffffff"/>
<rect x="800" y="386" width="3" height="13" fill="#ffffff"/>
<rect x="805" y="374" width="1" height="30" fill="#ffffff"/>
<rect x="804" y="376" width="3" height="11" fill="#ffffff"/>
<rect x="808" y="368" width="1" height="73" fill="#666975"/>
<rect x="807" y="376" width="3" height="64" fill="#666975"/>
<rect x="812" y="440" width="1" height="73" fill="#666975"/>
<rect x="811" y="441" width="3" height="53" fill="#666975"/>
<rect x="815" y="464" width="1" height="49" fill="#ffffff"/>
<rect x="814" y="468" width="3" height="26" fill="#ffffff"/>
<rect x="819" y="454" width="1" height="54" fill="#ffffff"/>
<rect x="818" y="455" width="3" height="13" fill="#ffffff"/>
<rect x="822" y="446" width="1" height="15" fill="#ffffff"/>
<rect x="821" y="454" width="3" height="3" fill="#ffffff"/>
<rect x="826" y="450" width="1" height="16" fill="#666975"/>
<rect x="825" y="455" width="3" height="8" fill="#666975"/>
<rect x="829" y="454" width="1" height="18" fill="#ffffff"/>
<rect x="828" y="456" width="3" height="8" fill="#ffffff"/>
<rect x="833" y="439" width="1" height="19" fill="#ffffff"/>
<rect x="832" y="448" width="3" height="9" fill="#ffffff"/>
<rect x="836" y="413" width="1" height="39" fill="#ffffff"/>
<rect x="835" y="417" width="3" height="32" fill="#ffffff"/>
<rect x="839" y="403" width="1" height="17" fill="#ffffff"/>
<rect x="838" y="412" width="3" height="7" fill="#ffffff"/>
<rect x="843" y="413" width="1" height="12" fill="#666975"/>
<rect x="842" y="415" width="3" height="7" fill="#666975"/>
<rect x="846" y="419" width="1" height="18" fill="#666975"/>
<rect x="845" y="421" width="3" height="7" fill="#666975"/>
<rect x="850" y="411" width="1" height="25" fill="#666975"/>
<rect x="849" y="428" width="3" height="7" fill="#666975"/>
<rect x="853" y="427" width="1" height="14" fill="#666975"/>
<rect x="852" y="430" width="3" height="5" fill="#666975"/>
<rect x="857" y="426" width="1" height="13" fill="#ffffff"/>
<rect x="856" y="429" width="3" height="6" fill="#ffffff"/>
<rect x="860" y="428" width="1" height="27" fill="#666975"/>
<rect x="859" y="430" width="3" height="24" fill="#666975"/>
<rect x="864" y="443" width="1" height="39" fill="#ffffff"/>
<rect x="863" y="454" width="3" height="2" fill="#ffffff"/>
<rect x="867" y="445" width="1" height="22" fill="#666975"/>
<rect x="866" y="449" width="3" height="13" fill="#666975"/>
<rect x="871" y="452" width="1" height="14" fill="#ffffff"/>
<rect x="870" y="459" width="3" height="3" fill="#ffffff"/>
<rect x="874" y="446" width="1" height="23" fill="#ffffff"/>
<rect x="873" y="448" width="3" height="11" fill="#ffffff"/>
<rect x="877" y="440" width="1" height="15" fill="#ffffff"/>
<rect x="876" y="441" width="3" height="8" fill="#ffffff"/>
<rect x="881" y="440" width="1" height="12" fill="#666975"/>
<rect x="880" y="442" width="3" height="8" fill="#666975"/>
<rect x="884" y="449" width="1" height="38" fill="#666975"/>
<rect x="883" y="449" width="3" height="28" fill="#666975"/>
<rect x="888" y="466" width="1" height="33" fill="#ffffff"/>
<rect x="887" y="467" width="3" height="10" fill="#ffffff"/>
<rect x="891" y="432" width="1" height="43" fill="#ffffff"/>
<rect x="890" y="434" width="3" height="35" fill="#ffffff"/>
<rect x="895" y="407" width="1" height="29" fill="#ffffff"/>
<rect x="894" y="408" width="3" height="27" fill="#ffffff"/>
<rect x="898" y="407" width="1" height="12" fill="#666975"/>
<rect x="897" y="409" width="3" height="9" fill="#666975"/>
<rect x="902" y="410" width="1" height="17" fill="#ffffff"/>
<rect x="901" y="416" width="3" height="3" fill="#ffffff"/>
<rect x="905" y="401" width="1" height="20" fill="#666975"/>
<rect x="904" y="416" width="3" height="3" fill="#666975"/>
<rect x="909" y="408" width="1" height="14" fill="#ffffff"/>
<rect x="908" y="411" width="3" height="10" fill="#ffffff"/>
<rect x="912" y="408" width="1" height="19" fill="#666975"/>
<rect x="911" y="412" width="3" height="14" fill="#666975"/>
<rect x="915" y="425" width="1" height="14" fill="#666975"/>
<rect x="914" y="425" width="3" height="5" fill="#666975"/>
<rect x="919" y="427" width="1" height="17" fill="#666975"/>
<rect x="918" y="428" width="3" height="3" fill="#666975"/>
<rect x="922" y="427" width="1" height="13" fill="#666975"/>
<rect x="921" y="429" width="3" height="1" fill="#666975"/>
<rect x="926" y="425" width="1" height="6" fill="#ffffff"/>
<rect x="925" y="428" width="3" height="2" fill="#ffffff"/>
<rect x="929" y="428" width="1" height="13" fill="#666975"/>
<rect x="928" y="429" width="3" height="12" fill="#666975"/>
<rect x="933" y="426" width="1" height="17" fill="#ffffff"/>
<rect x="932" y="428" width="3" height="13" fill="#ffffff"/>
<rect x="936" y="421" width="1" height="9" fill="#ffffff"/>
<rect x="935" y="423" width="3" height="5" fill="#ffffff"/>
<rect x="940" y="418" width="1" height="17" fill="#ffffff"/>
<rect x="939" y="419" width="3" height="4" fill="#ffffff"/>
<rect x="943" y="376" width="1" height="46" fill="#ffffff"/>
<rect x="942" y="394" width="3" height="27" fill="#ffffff"/>
<rect x="947" y="383" width="1" height="12" fill="#ffffff"/>
<rect x="946" y="391" width="3" height="3" fill="#ffffff"/>
<rect x="950" y="364" width="1" height="29" fill="#ffffff"/>
<rect x="949" y="370" width="3" height="22" fill="#ffffff"/>
<rect x="954" y="357" width="1" height="15" fill="#ffffff"/>
<rect x="953" y="368" width="3" height="3" fill="#ffffff"/>
<rect x="957" y="343" width="1" height="33" fill="#ffffff"/>
<rect x="956" y="353" width="3" height="17" fill="#ffffff"/>
<rect x="960" y="348" width="1" height="14" fill="#666975"/>
<rect x="959" y="352" width="3" height="9" fill="#666975"/>
<rect x="964" y="355" width="1" height="10" fill="#666975"/>
<rect x="963" y="360" width="3" height="4" fill="#666975"/>
<rect x="967" y="352" width="1" height="14" fill="#ffffff"/>
<rect x="966" y="359" width="3" height="6" fill="#ffffff"/>
<rect x="971" y="355" width="1" height="28" fill="#666975"/>
<rect x="970" y="359" width="3" height="23" fill="#666975"/>
<rect x="974" y="376" width="1" height="16" fill="#ffffff"/>
<rect x="973" y="377" width="3" height="6" fill="#ffffff"/>
<rect x="978" y="368" width="1" height="18" fill="#ffffff"/>
<rect x="977" y="371" width="3" height="7" fill="#ffffff"/>
<rect x="981" y="371" width="1" height="14" fill="#666975"/>
<rect x="980" y="372" width="3" height="3" fill="#666975"/>
<rect x="985" y="348" width="1" height="29" fill="#ffffff"/>
<rect x="984" y="357" width="3" height="18" fill="#ffffff"/>
<rect x="988" y="351" width="1" height="30" fill="#666975"/>
<rect x="987" y="357" width="3" height="23" fill="#666975"/>
<rect x="992" y="374" width="1" height="11" fill="#ffffff"/>
<rect x="991" y="375" width="3" height="5" fill="#ffffff"/>
<rect x="995" y="367" width="1" height="10" fill="#ffffff"/>
<rect x="994" y="371" width="3" height="5" fill="#ffffff"/>
<rect x="998" y="365" width="1" height="38" fill="#666975"/>
<rect x="997" y="371" width="3" height="16" fill="#666975"/>
<rect x="1002" y="386" width="1" height="27" fill="#666975"/>
<rect x="1001" y="387" width="3" height="18" fill="#666975"/>
<rect x="1005" y="401" width="1" height="18" fill="#666975"/>
<rect x="1004" y="405" width="3" height="13" fill="#666975"/>
<rect x="1009" y="412" width="1" height="15" fill="#ffffff"/>
<rect x="1008" y="418" width="3" height="5" fill="#ffffff"/>
<rect x="1012" y="412" width="1" height="14" fill="#ffffff"/>
<rect x="1011" y="412" width="3" height="10" fill="#ffffff"/>
<rect x="1016" y="410" width="1" height="12" fill="#ffffff"/>
<rect x="1015" y="413" width="3" height="8" fill="#ffffff"/>
<rect x="1019" y="403" width="1" height="12" fill="#ffffff"/>
<rect x="1018" y="405" width="3" height="9" fill="#ffffff"/>
<rect x="1023" y="373" width="1" height="34" fill="#ffffff"/>
<rect x="1022" y="379" width="3" height="28" fill="#ffffff"/>
<rect x="1026" y="367" width="1" height="31" fill="#666975"/>
<rect x="1025" y="380" width="3" height="16" fill="#666975"/>
<rect x="1030" y="391" width="1" height="45" fill="#666975"/>
<rect x="1029" y="394" width="3" height="26" fill="#666975"/>
<rect x="1033" y="412" width="1" height="27" fill="#666975"/>
<rect x="1032" y="419" width="3" height="7" fill="#666975"/>
<rect x="1036" y="419" width="1" height="12" fill="#666975"/>
<rect x="1035" y="421" width="3" height="5" fill="#666975"/>
<rect x="1040" y="411" width="1" height="16" fill="#ffffff"/>
<rect x="1039" y="418" width="3" height="8" fill="#ffffff"/>
<rect x="1043" y="383" width="1" height="54" fill="#ffffff"/>
<rect x="1042" y="386" width="3" height="33" fill="#ffffff"/>
<rect x="1047" y="375" width="1" height="15" fill="#666975"/>
<rect x="1046" y="386" width="3" height="3" fill="#666975"/>
<rect x="1050" y="386" width="1" height="17" fill="#666975"/>
<rect x="1049" y="388" width="3" height="7" fill="#666975"/>
<rect x="1054" y="392" width="1" height="25" fill="#666975"/>
<rect x="1053" y="394" width="3" height="22" fill="#666975"/>
<rect x="1057" y="415" width="1" height="65" fill="#666975"/>
<rect x="1056" y="416" width="3" height="64" fill="#666975"/>
<rect x="1061" y="475" width="1" height="37" fill="#666975"/>
<rect x="1060" y="477" width="3" height="31" fill="#666975"/>
<rect x="1064" y="474" width="1" height="37" fill="#ffffff"/>
<rect x="1063" y="487" width="3" height="22" fill="#ffffff"/>
<rect x="1068" y="480" width="1" height="20" fill="#ffffff"/>
<rect x="1067" y="484" width="3" height="6" fill="#ffffff"/>
<rect x="1071" y="483" width="1" height="44" fill="#666975"/>
<rect x="1070" y="484" width="3" height="16" fill="#666975"/>
<rect x="1074" y="485" width="1" height="34" fill="#ffffff"/>
<rect x="1073" y="496" width="3" height="5" fill="#ffffff"/>
<rect x="1078" y="494" width="1" height="30" fill="#666975"/>
<rect x="1077" y="497" width="3" height="21" fill="#666975"/>
<rect x="1081" y="491" width="1" height="49" fill="#ffffff"/>
<rect x="1080" y="498" width="3" height="21" fill="#ffffff"/>
<rect x="1085" y="480" width="1" height="31" fill="#666975"/>
<rect x="1084" y="500" width="3" height="6" fill="#666975"/>
<rect x="1088" y="491" width="1" height="32" fill="#666975"/>
<rect x="1087" y="507" width="3" height="11" fill="#666975"/>
<rect x="1092" y="502" width="1" height="31" fill="#666975"/>
<rect x="1091" y="518" width="3" height="10" fill="#666975"/>
<rect x="1095" y="500" width="1" height="26" fill="#ffffff"/>
<rect x="1094" y="500" width="3" height="26" fill="#ffffff"/>
<rect x="1099" y="500" width="1" height="11" fill="#666975"/>
<rect x="1098" y="501" width="3" height="5" fill="#666975"/>
<rect x="1102" y="503" width="1" height="15" fill="#666975"/>
<rect x="1101" y="504" width="3" height="13" fill="#666975"/>
<rect x="1106" y="505" width="1" height="13" fill="#ffffff"/>
<rect x="1105" y="512" width="3" height="5" fill="#ffffff"/>
<rect x="1109" y="499" width="1" height="15" fill="#ffffff"/>
<rect x="1108" y="505" width="3" height="8" fill="#ffffff"/>
<rect x="1112" y="491" width="1" height="17" fill="#ffffff"/>
<rect x="1111" y="493" width="3" height="14" fill="#ffffff"/>
<rect x="1116" y="490" width="1" height="18" fill="#666975"/>
<rect x="1115" y="494" width="3" height="13" fill="#666975"/>
<rect x="1119" y="503" width="1" height="10" fill="#666975"/>
<rect x="1118" y="504" width="3" height="5" fill="#666975"/>
<rect x="1123" y="495" width="1" height="25" fill="#ffffff"/>
<rect x="1122" y="496" width="3" height="15" fill="#ffffff"/>
<rect x="1126" y="494" width="1" height="8" fill="#ffffff"/>
<rect x="1125" y="496" width="3" height="4" fill="#ffffff"/>
<rect x="1130" y="490" width="1" height="8" fill="#ffffff"/>
<rect x="1129" y="491" width="3" height="6" fill="#ffffff"/>
<rect x="1133" y="490" width="1" height="19" fill="#666975"/>
<rect x="1132" y="493" width="3" height="15" fill="#666975"/>
<rect x="1137" y="505" width="1" height="12" fill="#ffffff"/>
<rect x="1136" y="506" width="3" height="4" fill="#ffffff"/>
<rect x="1140" y="504" width="1" height="51" fill="#666975"/>
<rect x="1139" y="508" width="3" height="30" fill="#666975"/>
<rect x="1144" y="523" width="1" height="26" fill="#ffffff"/>
<rect x="1143" y="534" width="3" height="4" fill="#ffffff"/>
<rect x="1147" y="529" width="1" height="32" fill="#ffffff"/>
<rect x="1146" y="532" width="3" height="4" fill="#ffffff"/>
<rect x="1150" y="512" width="1" height="28" fill="#ffffff"/>
<rect x="1149" y="514" width="3" height="20" fill="#ffffff"/>
<rect x="1154" y="499" width="1" height="18" fill="#ffffff"/>
<rect x="1153" y="502" width="3" height="14" fill="#ffffff"/>
<rect x="1157" y="498" width="1" height="7" fill="#ffffff"/>
<rect x="1156" y="500" width="3" height="3" fill="#ffffff"/>
<rect x="1161" y="491" width="1" height="12" fill="#ffffff"/>
<rect x="1160" y="496" width="3" height="6" fill="#ffffff"/>
<rect x="1164" y="495" width="1" height="36" fill="#666975"/>
<rect x="1163" y="497" width="3" height="17" fill="#666975"/>
<rect x="1168" y="509" width="1" height="37" fill="#666975"/>
<rect x="1167" y="513" width="3" height="32" fill="#666975"/>
<rect x="1171" y="540" width="1" height="37" fill="#666975"/>
<rect x="1170" y="545" width="3" height="18" fill="#666975"/>
<rect x="1175" y="553" width="1" height="17" fill="#ffffff"/>
<rect x="1174" y="554" width="3" height="9" fill="#ffffff"/>
<rect x="1178" y="548" width="1" height="23" fill="#666975"/>
<rect x="1177" y="555" width="3" height="15" fill="#666975"/>
<rect x="1182" y="556" width="1" height="26" fill="#ffffff"/>
<rect x="1181" y="561" width="3" height="10" fill="#ffffff"/>
<rect x="1185" y="541" width="1" height="32" fill="#ffffff"/>
<rect x="1184" y="543" width="3" height="20" fill="#ffffff"/>
<rect x="1188" y="540" width="1" height="14" fill="#666975"/>
<rect x="1187" y="543" width="3" height="4" fill="#666975"/>
<rect x="1192" y="535" width="1" height="22" fill="#666975"/>
<rect x="1191" y="545" width="3" height="3" fill="#666975"/>
<rect x="1195" y="508" width="1" height="45" fill="#ffffff"/>
<rect x="1194" y="519" width="3" height="27" fill="#ffffff"/>
<rect x="1199" y="508" width="1" height="17" fill="#666975"/>
<rect x="1198" y="519" width="3" height="4" fill="#666975"/>
<rect x="1202" y="521" width="1" height="11" fill="#ffffff"/>
<rect x="1201" y="522" width="3" height="3" fill="#ffffff"/>
<rect x="1206" y="521" width="1" height="17" fill="#666975"/>
<rect x="1205" y="522" width="3" height="5" fill="#666975"/>
<rect x="1209" y="525" width="1" height="42" fill="#666975"/>
<rect x="1208" y="526" width="3" height="33" fill="#666975"/>
<rect x="1213" y="531" width="1" height="31" fill="#ffffff"/>
<rect x="1212" y="538" width="3" height="24" fill="#ffffff"/>
<rect x="1216" y="528" width="1" height="16" fill="#ffffff"/>
<rect x="1215" y="536" width="3" height="3" fill="#ffffff"/>
<rect x="1220" y="529" width="1" height="25" fill="#666975"/>
<rect x="1219" y="536" width="3" height="9" fill="#666975"/>
<rect x="1223" y="530" width="1" height="68" fill="#666975"/>
<rect x="1222" y="544" width="3" height="49" fill="#666975"/>
<rect x="1226" y="582" width="1" height="26" fill="#ffffff"/>
<rect x="1225" y="584" width="3" height="9" fill="#ffffff"/>
<rect x="1230" y="555" width="1" height="31" fill="#ffffff"/>
<rect x="1229" y="556" width="3" height="29" fill="#ffffff"/>
<rect x="1233" y="545" width="1" height="13" fill="#ffffff"/>
<rect x="1232" y="551" width="3" height="6" fill="#ffffff"/>
<rect x="1237" y="545" width="1" height="14" fill="#666975"/>
<rect x="1236" y="550" width="3" height="5" fill="#666975"/>
<rect x="1240" y="549" width="1" height="13" fill="#666975"/>
<rect x="1239" y="554" width="3" height="2" fill="#666975"/>
<rect x="1244" y="553" width="1" height="14" fill="#666975"/>
<rect x="1243" y="555" width="3" height="4" fill="#666975"/>
<rect x="1247" y="552" width="1" height="25" fill="#666975"/>
<rect x="1246" y="558" width="3" height="9" fill="#666975"/>
<rect x="1251" y="566" width="1" height="65" fill="#666975"/>
<rect x="1250" y="567" width="3" height="55" fill="#666975"/>
<rect x="1254" y="613" width="1" height="23" fill="#ffffff"/>
<rect x="1253" y="621" width="3" height="4" fill="#ffffff"/>
<rect x="1258" y="599" width="1" height="30" fill="#666975"/>
<rect x="1257" y="621" width="3" height="3" fill="#666975"/>
<rect x="1261" y="606" width="1" height="34" fill="#666975"/>
<rect x="1260" y="621" width="3" height="18" fill="#666975"/>
<rect x="1264" y="623" width="1" height="16" fill="#ffffff"/>
<rect x="1263" y="630" width="3" height="8" fill="#ffffff"/>
<rect x="1268" y="629" width="1" height="45" fill="#666975"/>
<rect x="1267" y="630" width="3" height="24" fill="#666975"/>
<rect x="1271" y="649" width="1" height="29" fill="#666975"/>
<rect x="1270" y="653" width="3" height="19" fill="#666975"/>
<rect x="1275" y="639" width="1" height="54" fill="#ffffff"/>
<rect x="1274" y="643" width="3" height="30" fill="#ffffff"/>
<rect x="1278" y="632" width="1" height="43" fill="#ffffff"/>
<rect x="1277" y="638" width="3" height="6" fill="#ffffff"/>
<rect x="1282" y="636" width="1" height="20" fill="#666975"/>
<rect x="1281" y="639" width="3" height="15" fill="#666975"/>
<rect x="1285" y="642" width="1" height="20" fill="#ffffff"/>
<rect x="1284" y="644" width="3" height="11" fill="#ffffff"/>
<rect x="1289" y="638" width="1" height="15" fill="#666975"/>
<rect x="1288" y="644" width="3" height="7" fill="#666975"/>
<rect x="1292" y="645" width="1" height="12" fill="#666975"/>
<rect x="1291" y="648" width="3" height="5" fill="#666975"/>
<rect x="1296" y="643" width="1" height="15" fill="#666975"/>
<rect x="1295" y="652" width="3" height="4" fill="#666975"/>
<rect x="1299" y="652" width="1" height="12" fill="#ffffff"/>
<rect x="1298" y="655" width="3" height="2" fill="#ffffff"/>
<rect x="1303" y="649" width="1" height="13" fill="#ffffff"/>
<rect x="1302" y="651" width="3" height="4" fill="#ffffff"/>
<rect x="1306" y="647" width="1" height="9" fill="#ffffff"/>
<rect x="1305" y="650" width="3" height="2" fill="#ffffff"/>
<rect x="1309" y="647" width="1" height="7" fill="#666975"/>
<rect x="1308" y="650" width="3" height="2" fill="#666975"/>
<rect x="1313" y="634" width="1" height="20" fill="#ffffff"/>
<rect x="1312" y="643" width="3" height="11" fill="#ffffff"/>
<rect x="1316" y="622" width="1" height="23" fill="#ffffff"/>
<rect x="1315" y="626" width="3" height="18" fill="#ffffff"/>
<rect x="1320" y="616" width="1" height="14" fill="#ffffff"/>
<rect x="1319" y="624" width="3" height="3" fill="#ffffff"/>
<rect x="1323" y="622" width="1" height="18" fill="#666975"/>
<rect x="1322" y="624" width="3" height="5" fill="#666975"/>
<rect x="1327" y="625" width="1" height="6" fill="#ffffff"/>
<rect x="1326" y="627" width="3" height="3" fill="#ffffff"/>
<rect x="1330" y="613" width="1" height="17" fill="#666975"/>
<rect x="1329" y="627" width="3" height="2" fill="#666975"/>
<rect x="1334" y="618" width="1" height="19" fill="#666975"/>
<rect x="1333" y="628" width="3" height="8" fill="#666975"/>
<rect x="1337" y="620" width="1" height="16" fill="#ffffff"/>
<rect x="1336" y="623" width="3" height="12" fill="#ffffff"/>
<rect x="1341" y="617" width="1" height="17" fill="#666975"/>
<rect x="1340" y="623" width="3" height="10" fill="#666975"/>
<rect x="1344" y="609" width="1" height="36" fill="#ffffff"/>
<rect x="1343" y="612" width="3" height="20" fill="#ffffff"/>
<rect x="1347" y="604" width="1" height="17" fill="#ffffff"/>
<rect x="1346" y="610" width="3" height="10" fill="#ffffff"/>
<rect x="1351" y="609" width="1" height="13" fill="#666975"/>
<rect x="1350" y="611" width="3" height="10" fill="#666975"/>
<rect x="1354" y="620" width="1" height="14" fill="#666975"/>
<rect x="1353" y="620" width="3" height="13" fill="#666975"/>
<rect x="1358" y="616" width="1" height="21" fill="#ffffff"/>
<rect x="1357" y="623" width="3" height="11" fill="#ffffff"/>
<rect x="1361" y="584" width="1" height="45" fill="#ffffff"/>
<rect x="1360" y="585" width="3" height="39" fill="#ffffff"/>
<rect x="1365" y="570" width="1" height="18" fill="#ffffff"/>
<rect x="1364" y="573" width="3" height="13" fill="#ffffff"/>
<rect x="1368" y="572" width="1" height="11" fill="#666975"/>
<rect x="1367" y="573" width="3" height="8" fill="#666975"/>
<rect x="1372" y="579" width="1" height="16" fill="#666975"/>
<rect x="1371" y="580" width="3" height="9" fill="#666975"/>
<rect x="1375" y="585" width="1" height="12" fill="#666975"/>
<rect x="1374" y="588" width="3" height="2" fill="#666975"/>
<rect x="1379" y="588" width="1" height="21" fill="#666975"/>
<rect x="1378" y="589" width="3" height="19" fill="#666975"/>
<rect x="1382" y="599" width="1" height="12" fill="#ffffff"/>
<rect x="1381" y="602" width="3" height="7" fill="#ffffff"/>
<rect x="1385" y="588" width="1" height="24" fill="#666975"/>
<rect x="1384" y="601" width="3" height="3" fill="#666975"/>
<rect x="1389" y="582" width="1" height="31" fill="#ffffff"/>
<rect x="1388" y="586" width="3" height="20" fill="#ffffff"/>
<rect x="1392" y="579" width="1" height="34" fill="#666975"/>
<rect x="1391" y="586" width="3" height="7" fill="#666975"/>
<text x="19.9" y="82.1" font-size="16" text-anchor="start" font-weight="normal" font-style="normal" fill="#e4e6ea" textLength="131.6" lengthAdjust="spacingAndGlyphs" opacity="0.93" stroke="#e4e6ea" stroke-width="0.15">Supertrend (10, 3)</text>
<rect x="154.7" y="204.3" width="429.5" height="128.6" fill="none" stroke="#ffffff" stroke-width="2"/>
<rect x="536" y="120.8" width="321" height="33.2" fill="rgba(255,255,255,0.15)"/>
<rect x="577" y="94.2" width="259.5" height="29.2" fill="rgba(255,255,255,0.15)"/>
<text x="581.8" y="115.9" font-size="23" text-anchor="start" font-weight="bold" font-style="italic" fill="#ffffff" textLength="251.6" lengthAdjust="spacingAndGlyphs" stroke="#ffffff" stroke-width="0.45">PREMIUM SELLING ZONE</text>
<rect x="265.8" y="337.4" width="246.8" height="29.6" fill="rgba(255,255,255,0.15)"/>
<text x="269.8" y="359.0" font-size="23" text-anchor="start" font-weight="bold" font-style="italic" fill="#ffffff" textLength="238.5" lengthAdjust="spacingAndGlyphs" stroke="#ffffff" stroke-width="0.45">ACCUMULATION PHASE</text>
<rect x="852.5" y="427.9" width="863.5" height="2" fill="#dfe2e2"/>
<rect x="859.5" y="543.9" width="856.5" height="2" fill="#dfe2e2"/>
<line x1="9" y1="592.5" x2="1651" y2="592.5" stroke="#8d909b" stroke-width="1" stroke-dasharray="1 2" shape-rendering="crispEdges"/>
<rect x="1517.2" y="403.1" width="139.4" height="29.7" fill="rgba(255,255,255,0.15)"/>
<text x="1521.1" y="424.6" font-size="23" text-anchor="start" font-weight="bold" font-style="italic" fill="#ffffff" textLength="130.6" lengthAdjust="spacingAndGlyphs" stroke="#ffffff" stroke-width="0.45">Final Target</text>
<rect x="1513.3" y="519.3" width="121.7" height="29.5" fill="rgba(255,255,255,0.15)"/>
<text x="1518.6" y="540.8" font-size="23" text-anchor="start" font-weight="bold" font-style="italic" fill="#ffffff" textLength="112.9" lengthAdjust="spacingAndGlyphs" stroke="#ffffff" stroke-width="0.45">Target one</text>
</g>
<text x="1784.8" y="164.2" font-size="15" text-anchor="end" font-weight="normal" font-style="normal" fill="#e4e4e4" textLength="58.7" lengthAdjust="spacingAndGlyphs" stroke="#e4e4e4" stroke-width="0.2">4,200.00</text>
<text x="1784.8" y="231.8" font-size="15" text-anchor="end" font-weight="normal" font-style="normal" fill="#e4e4e4" textLength="58.7" lengthAdjust="spacingAndGlyphs" stroke="#e4e4e4" stroke-width="0.2">4,000.00</text>
<text x="1784.8" y="299.4" font-size="15" text-anchor="end" font-weight="normal" font-style="normal" fill="#e4e4e4" textLength="58.7" lengthAdjust="spacingAndGlyphs" stroke="#e4e4e4" stroke-width="0.2">3,800.00</text>
<text x="1784.8" y="366.9" font-size="15" text-anchor="end" font-weight="normal" font-style="normal" fill="#e4e4e4" textLength="58.7" lengthAdjust="spacingAndGlyphs" stroke="#e4e4e4" stroke-width="0.2">3,600.00</text>
<text x="1784.8" y="502.1" font-size="15" text-anchor="end" font-weight="normal" font-style="normal" fill="#e4e4e4" textLength="58.7" lengthAdjust="spacingAndGlyphs" stroke="#e4e4e4" stroke-width="0.2">3,200.00</text>
<text x="1784.8" y="569.7" font-size="15" text-anchor="end" font-weight="normal" font-style="normal" fill="#e4e4e4" textLength="58.7" lengthAdjust="spacingAndGlyphs" stroke="#e4e4e4" stroke-width="0.2">3,000.00</text>
<text x="1784.8" y="637.3" font-size="15" text-anchor="end" font-weight="normal" font-style="normal" fill="#e4e4e4" textLength="58.7" lengthAdjust="spacingAndGlyphs" stroke="#e4e4e4" stroke-width="0.2">2,800.00</text>
<text x="1784.8" y="704.8" font-size="15" text-anchor="end" font-weight="normal" font-style="normal" fill="#e4e4e4" textLength="58.7" lengthAdjust="spacingAndGlyphs" stroke="#e4e4e4" stroke-width="0.2">2,600.00</text>
<rect x="1734.6" y="98" width="2.6" height="1" fill="#bdbdbd"/>
<rect x="1720.2" y="61" width="72.6" height="32" rx="4.5" fill="#0f0f0f" stroke="#3a3a3a" stroke-width="1.4"/>
<text x="1731.0" y="81.6" font-size="14.5" text-anchor="start" font-weight="normal" font-style="normal" fill="#cfcfcf" textLength="26.5" lengthAdjust="spacingAndGlyphs">USD</text>
<rect x="1715.4" y="403.8" width="75.8" height="19.2" rx="2.5" fill="#676767"/>
<text x="1784.8" y="418.4" font-size="15" text-anchor="end" font-weight="normal" font-style="normal" fill="#ffffff" textLength="58.7" lengthAdjust="spacingAndGlyphs">3,446.98</text>
<rect x="1715.4" y="418.7" width="75.8" height="21.0" rx="2.5" fill="#dadada"/>
<text x="1784.8" y="433.6" font-size="15" text-anchor="end" font-weight="normal" font-style="normal" fill="#1a1a1a" textLength="58.7" lengthAdjust="spacingAndGlyphs">3,402.57</text>
<rect x="1715.4" y="535.0" width="75.8" height="21.0" rx="2.5" fill="#dadada"/>
<text x="1784.8" y="549.9" font-size="15" text-anchor="end" font-weight="normal" font-style="normal" fill="#1a1a1a" textLength="58.7" lengthAdjust="spacingAndGlyphs">3,058.61</text>
<rect x="1715.4" y="578.7" width="75.8" height="7.3" rx="2.5" fill="#f23645"/>
<text x="1784.8" y="593.6" font-size="15" text-anchor="end" font-weight="normal" font-style="normal" fill="#ffffff" textLength="58.7" lengthAdjust="spacingAndGlyphs"></text>
<rect x="1715.4" y="630.3" width="75.8" height="19.7" rx="2.5" fill="#4caf50"/>
<text x="1784.8" y="643.7" font-size="15" text-anchor="end" font-weight="normal" font-style="normal" fill="#ffffff" textLength="58.7" lengthAdjust="spacingAndGlyphs">2,779.69</text>
<rect x="1715.4" y="602.9" width="75.8" height="21.0" rx="2.5" fill="#9a9a9a"/>
<text x="1784.8" y="617.8" font-size="15" text-anchor="end" font-weight="normal" font-style="normal" fill="#1a1a1a" textLength="58.7" lengthAdjust="spacingAndGlyphs">2,858.89</text>
<rect x="1715.4" y="644.0" width="75.8" height="21.0" rx="2.5" fill="#dadada"/>
<text x="1784.8" y="658.9" font-size="15" text-anchor="end" font-weight="normal" font-style="normal" fill="#1a1a1a" textLength="58.7" lengthAdjust="spacingAndGlyphs">2,736.82</text>
<rect x="1651" y="582" width="63.6" height="20.6" rx="2.5" fill="#5d606b"/>
<text x="1657.4" y="596.9" font-size="15" text-anchor="start" font-weight="normal" font-style="normal" fill="#ffffff" textLength="52.4" lengthAdjust="spacingAndGlyphs">ETHUSD</text>
<rect x="1715.4" y="581.7" width="75.8" height="20.8" rx="2.5" fill="#5d606b"/>
<text x="1784.8" y="596.9" font-size="15" text-anchor="end" font-weight="normal" font-style="normal" fill="#ffffff" textLength="58.7" lengthAdjust="spacingAndGlyphs">2,919.67</text>
<text x="44.6" y="759.5" font-size="15" text-anchor="middle" font-weight="normal" font-style="normal" fill="#f4f4f4" textLength="7.9" lengthAdjust="spacingAndGlyphs" stroke="#f4f4f4" stroke-width="0.35">8</text>
<text x="127.6" y="759.5" font-size="15" text-anchor="middle" font-weight="normal" font-style="normal" fill="#f4f4f4" textLength="15.8" lengthAdjust="spacingAndGlyphs" stroke="#f4f4f4" stroke-width="0.35">11</text>
<text x="210.6" y="759.5" font-size="15" text-anchor="middle" font-weight="normal" font-style="normal" fill="#f4f4f4" textLength="15.8" lengthAdjust="spacingAndGlyphs" stroke="#f4f4f4" stroke-width="0.35">14</text>
<text x="293.6" y="759.5" font-size="15" text-anchor="middle" font-weight="normal" font-style="normal" fill="#f4f4f4" textLength="15.8" lengthAdjust="spacingAndGlyphs" stroke="#f4f4f4" stroke-width="0.35">17</text>
<text x="376.6" y="759.5" font-size="15" text-anchor="middle" font-weight="normal" font-style="normal" fill="#f4f4f4" textLength="15.8" lengthAdjust="spacingAndGlyphs" stroke="#f4f4f4" stroke-width="0.35">20</text>
<text x="459.6" y="759.5" font-size="15" text-anchor="middle" font-weight="normal" font-style="normal" fill="#f4f4f4" textLength="15.8" lengthAdjust="spacingAndGlyphs" stroke="#f4f4f4" stroke-width="0.35">23</text>
<text x="542.6" y="759.5" font-size="15" text-anchor="middle" font-weight="normal" font-style="normal" fill="#f4f4f4" textLength="15.8" lengthAdjust="spacingAndGlyphs" stroke="#f4f4f4" stroke-width="0.35">26</text>
<text x="625.6" y="759.5" font-size="15" text-anchor="middle" font-weight="normal" font-style="normal" fill="#f4f4f4" textLength="15.8" lengthAdjust="spacingAndGlyphs" stroke="#f4f4f4" stroke-width="0.35">29</text>
<text x="708.5" y="759.5" font-size="15" text-anchor="middle" font-weight="bold" font-style="normal" fill="#ffffff" textLength="26.3" lengthAdjust="spacingAndGlyphs" stroke="#ffffff" stroke-width="0.2">Nov</text>
<text x="791.6" y="759.5" font-size="15" text-anchor="middle" font-weight="normal" font-style="normal" fill="#f4f4f4" textLength="7.9" lengthAdjust="spacingAndGlyphs" stroke="#f4f4f4" stroke-width="0.35">4</text>
<text x="874.6" y="759.5" font-size="15" text-anchor="middle" font-weight="normal" font-style="normal" fill="#f4f4f4" textLength="7.9" lengthAdjust="spacingAndGlyphs" stroke="#f4f4f4" stroke-width="0.35">7</text>
<text x="957.6" y="759.5" font-size="15" text-anchor="middle" font-weight="normal" font-style="normal" fill="#f4f4f4" textLength="15.8" lengthAdjust="spacingAndGlyphs" stroke="#f4f4f4" stroke-width="0.35">10</text>
<text x="1040.6" y="759.5" font-size="15" text-anchor="middle" font-weight="normal" font-style="normal" fill="#f4f4f4" textLength="15.8" lengthAdjust="spacingAndGlyphs" stroke="#f4f4f4" stroke-width="0.35">13</text>
<text x="1123.6" y="759.5" font-size="15" text-anchor="middle" font-weight="normal" font-style="normal" fill="#f4f4f4" textLength="15.8" lengthAdjust="spacingAndGlyphs" stroke="#f4f4f4" stroke-width="0.35">16</text>
<text x="1206.6" y="759.5" font-size="15" text-anchor="middle" font-weight="normal" font-style="normal" fill="#f4f4f4" textLength="15.8" lengthAdjust="spacingAndGlyphs" stroke="#f4f4f4" stroke-width="0.35">19</text>
<text x="1289.1" y="759.5" font-size="15" text-anchor="middle" font-weight="normal" font-style="normal" fill="#f4f4f4" textLength="15.8" lengthAdjust="spacingAndGlyphs" stroke="#f4f4f4" stroke-width="0.35">22</text>
<text x="1371.6" y="759.5" font-size="15" text-anchor="middle" font-weight="normal" font-style="normal" fill="#f4f4f4" textLength="15.8" lengthAdjust="spacingAndGlyphs" stroke="#f4f4f4" stroke-width="0.35">25</text>
<text x="1454.6" y="759.5" font-size="15" text-anchor="middle" font-weight="normal" font-style="normal" fill="#f4f4f4" textLength="15.8" lengthAdjust="spacingAndGlyphs" stroke="#f4f4f4" stroke-width="0.35">28</text>
<text x="1537.5" y="759.5" font-size="15" text-anchor="middle" font-weight="bold" font-style="normal" fill="#ffffff" textLength="25.6" lengthAdjust="spacingAndGlyphs" stroke="#ffffff" stroke-width="0.2">Dec</text>
<text x="1620.6" y="759.5" font-size="15" text-anchor="middle" font-weight="normal" font-style="normal" fill="#f4f4f4" textLength="7.9" lengthAdjust="spacingAndGlyphs" stroke="#f4f4f4" stroke-width="0.35">4</text>
<text x="1703.6" y="759.5" font-size="15" text-anchor="middle" font-weight="normal" font-style="normal" fill="#f4f4f4" textLength="7.9" lengthAdjust="spacingAndGlyphs" stroke="#f4f4f4" stroke-width="0.35">7</text>
<g>
<path d="M 1380.9 714.6 A 12.2 12.2 0 1 1 1383.6 728.4" fill="none" stroke="#b449d3" stroke-width="2" stroke-linecap="round"/>
<polygon points="1396.9,712.7 1386.6,720.4 1392.0,719.9 1388.2,726.0 1389.3,726.7 1398.2,718.6 1393.4,719.0 1397.4,713.2" fill="#b449d3"/>
<path d="M 1379.3 717.1 Q 1380.4 722.8 1386 723.9 Q 1380.4 725 1379.3 730.7 Q 1378.2 725 1372.6 723.9 Q 1378.2 722.8 1379.3 717.1 Z" fill="#7c4dff"/>
</g>
<g transform="translate(1413,719.6)">
<clipPath id="fc"><circle r="10"/></clipPath>
<circle r="12.95" fill="#0f0f0f" stroke="#f23645" stroke-width="2.1"/>
<g clip-path="url(#fc)">
<rect x="-10" y="-10" width="20" height="20" fill="#ffffff"/>
<rect x="-10" y="-10" width="20" height="4.2" fill="#ef5350"/>
<rect x="-10" y="-1.6" width="20" height="3.8" fill="#ef5350"/>
<rect x="-10" y="6.4" width="20" height="4" fill="#ef5350"/>
<rect x="-10" y="-10" width="12" height="12.2" fill="#1e88e5"/>
<rect x="-7.5" y="-7.8" width="1.4" height="1.2" fill="#e3f0fb"/>
<rect x="-4.3" y="-7.8" width="1.4" height="1.2" fill="#e3f0fb"/>
<rect x="-1.1" y="-7.8" width="1.4" height="1.2" fill="#e3f0fb"/>
<rect x="-7.5" y="-4.3999999999999995" width="1.4" height="1.2" fill="#e3f0fb"/>
<rect x="-4.3" y="-4.3999999999999995" width="1.4" height="1.2" fill="#e3f0fb"/>
<rect x="-1.1" y="-4.3999999999999995" width="1.4" height="1.2" fill="#e3f0fb"/>
<rect x="-7.5" y="-1.0" width="1.4" height="1.2" fill="#e3f0fb"/>
<rect x="-4.3" y="-1.0" width="1.4" height="1.2" fill="#e3f0fb"/>
<rect x="-1.1" y="-1.0" width="1.4" height="1.2" fill="#e3f0fb"/>
</g></g>
<g transform="translate(1555,719.6)">

<circle r="12.95" fill="#0f0f0f" stroke="#f23645" stroke-width="2.1"/>
<g clip-path="url(#fc)">
<rect x="-10" y="-10" width="20" height="20" fill="#ffffff"/>
<rect x="-10" y="-10" width="20" height="4.2" fill="#ef5350"/>
<rect x="-10" y="-1.6" width="20" height="3.8" fill="#ef5350"/>
<rect x="-10" y="6.4" width="20" height="4" fill="#ef5350"/>
<rect x="-10" y="-10" width="12" height="12.2" fill="#1e88e5"/>
<rect x="-7.5" y="-7.8" width="1.4" height="1.2" fill="#e3f0fb"/>
<rect x="-4.3" y="-7.8" width="1.4" height="1.2" fill="#e3f0fb"/>
<rect x="-1.1" y="-7.8" width="1.4" height="1.2" fill="#e3f0fb"/>
<rect x="-7.5" y="-4.3999999999999995" width="1.4" height="1.2" fill="#e3f0fb"/>
<rect x="-4.3" y="-4.3999999999999995" width="1.4" height="1.2" fill="#e3f0fb"/>
<rect x="-1.1" y="-4.3999999999999995" width="1.4" height="1.2" fill="#e3f0fb"/>
<rect x="-7.5" y="-1.0" width="1.4" height="1.2" fill="#e3f0fb"/>
<rect x="-4.3" y="-1.0" width="1.4" height="1.2" fill="#e3f0fb"/>
<rect x="-1.1" y="-1.0" width="1.4" height="1.2" fill="#e3f0fb"/>
</g></g>
<path d="M1796.5 56 V770.5 H9" fill="none" stroke="#000000" stroke-width="1"/>
<path d="M9 56.25 H1797" fill="none" stroke="#000000" stroke-width="0.5" stroke-opacity="0.6"/>
<text x="8.9" y="22.1" font-size="16" text-anchor="start" font-weight="bold" font-style="normal" fill="#131722" textLength="141.3" lengthAdjust="spacingAndGlyphs">Mentor_Michael03</text>
<text x="155.7" y="22.1" font-size="16" text-anchor="start" font-weight="normal" font-style="normal" fill="#131722" textLength="227.2" lengthAdjust="spacingAndGlyphs">published on TradingView.com,</text>
<text x="387.2" y="22.1" font-size="16" text-anchor="start" font-weight="normal" font-style="normal" fill="#131722" textLength="242.8" lengthAdjust="spacingAndGlyphs">November 25, 2025 14:56:53 EST</text>
<text x="8.9" y="43.6" font-size="16" text-anchor="start" font-weight="bold" font-style="normal" fill="#131722" textLength="167.6" lengthAdjust="spacingAndGlyphs">BINANCE:ETHUSD, 180</text>
<text x="184.3" y="43.6" font-size="16" text-anchor="start" font-weight="normal" font-style="normal" fill="#131722" textLength="62.0" lengthAdjust="spacingAndGlyphs">2,919.67</text>
<polygon points="251,32.8 262.8,32.8 256.9,43.8" fill="#f0514f"/>
<text x="268.7" y="43.6" font-size="16" text-anchor="start" font-weight="normal" font-style="normal" fill="#131722" textLength="117.8" lengthAdjust="spacingAndGlyphs">−34.79 (−1.18%)</text>
<text x="392.8" y="43.6" font-size="16" text-anchor="start" font-weight="bold" font-style="normal" fill="#131722" textLength="15.5" lengthAdjust="spacingAndGlyphs">O:</text>
<text x="479.7" y="43.6" font-size="16" text-anchor="start" font-weight="bold" font-style="normal" fill="#131722" textLength="14.8" lengthAdjust="spacingAndGlyphs">H:</text>
<text x="565.6" y="43.6" font-size="16" text-anchor="start" font-weight="bold" font-style="normal" fill="#131722" textLength="11.9" lengthAdjust="spacingAndGlyphs">L:</text>
<text x="647.6" y="43.6" font-size="16" text-anchor="start" font-weight="bold" font-style="normal" fill="#131722" textLength="13.9" lengthAdjust="spacingAndGlyphs">C:</text>
<text x="409.6" y="43.6" font-size="16" text-anchor="start" font-weight="normal" font-style="normal" fill="#ef5350" textLength="64.3" lengthAdjust="spacingAndGlyphs">2,936.26</text>
<text x="496.2" y="43.6" font-size="16" text-anchor="start" font-weight="normal" font-style="normal" fill="#ef5350" textLength="64.0" lengthAdjust="spacingAndGlyphs">2,957.30</text>
<text x="579.2" y="43.6" font-size="16" text-anchor="start" font-weight="normal" font-style="normal" fill="#ef5350" textLength="62.8" lengthAdjust="spacingAndGlyphs">2,873.93</text>
<text x="663.4" y="43.6" font-size="16" text-anchor="start" font-weight="normal" font-style="normal" fill="#ef5350" textLength="63.0" lengthAdjust="spacingAndGlyphs">2,919.67</text>
<path d="M8 787 H19.4 V801 H13.4 V793 H8 Z" fill="#131722"/>
<circle cx="23.9" cy="789.6" r="2.3" fill="#131722"/>
<path d="M28.9 787 H36.4 L30.4 801 H23.9 Z" fill="#131722"/>
<text x="42.4" y="801.0" font-size="20" text-anchor="start" font-weight="bold" font-style="normal" fill="#131722" textLength="114.6" lengthAdjust="spacingAndGlyphs" stroke="#131722" stroke-width="0.3">TradingView</text>
</svg>
</body></html>
